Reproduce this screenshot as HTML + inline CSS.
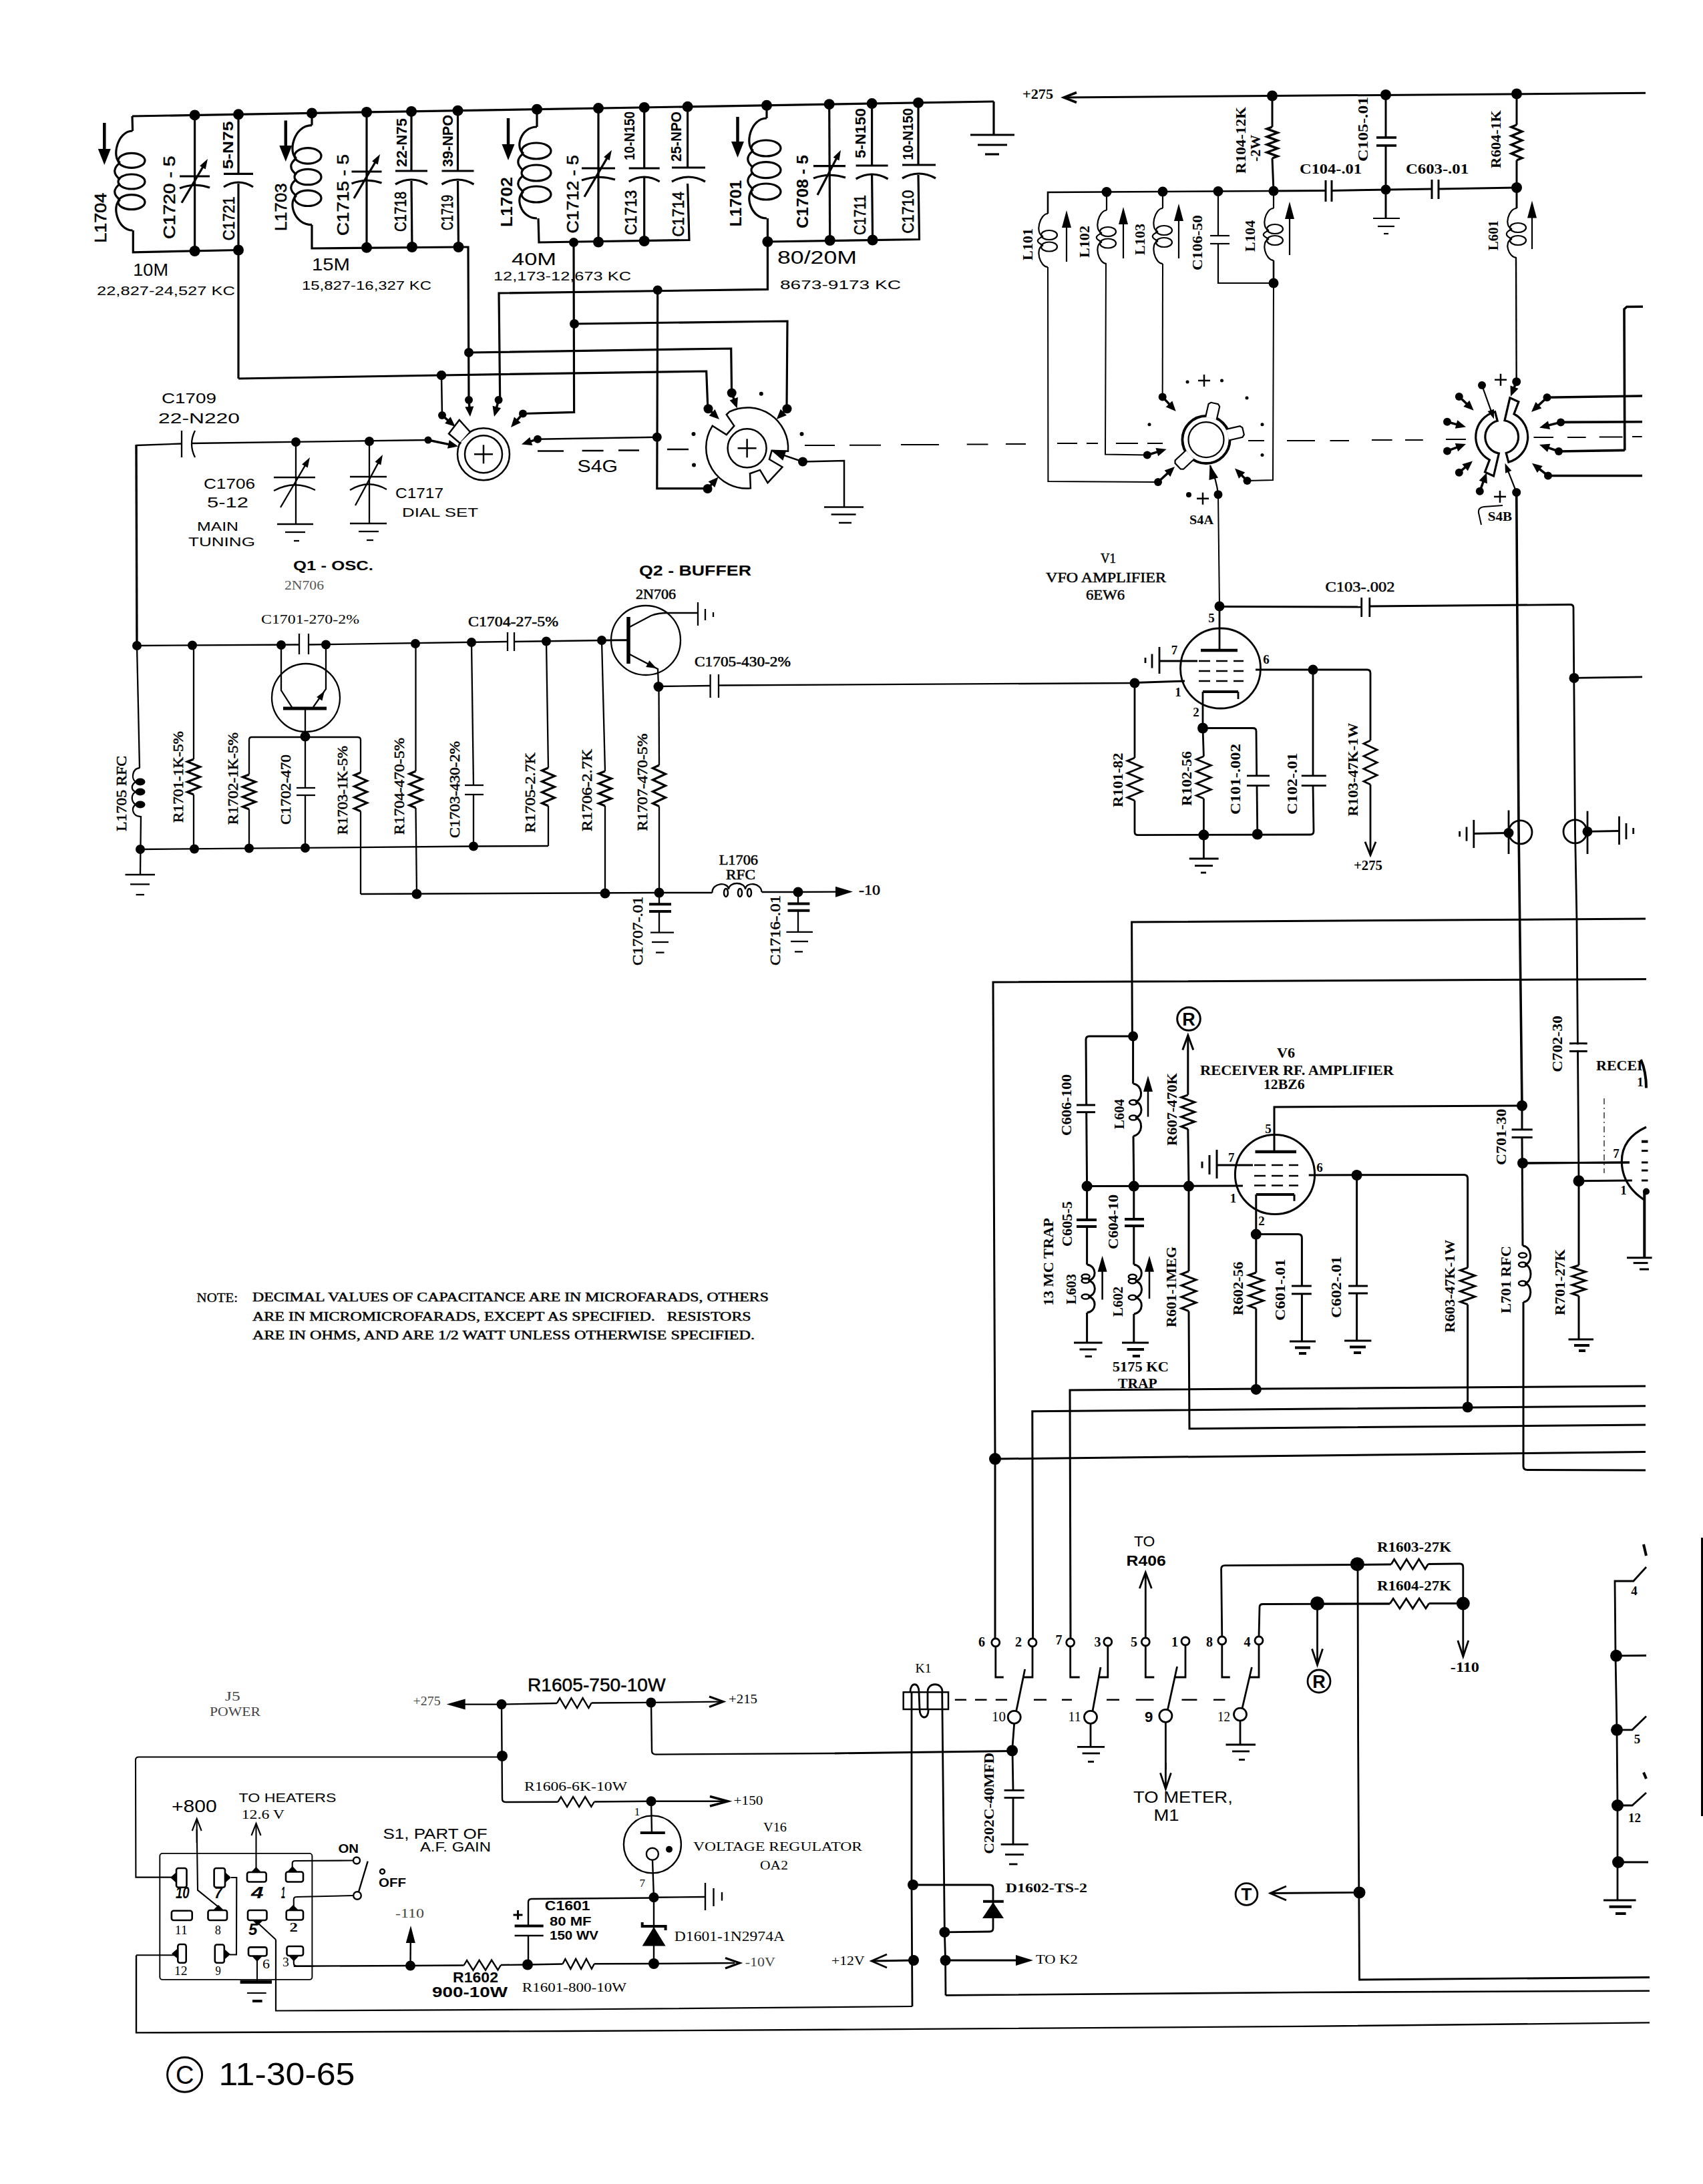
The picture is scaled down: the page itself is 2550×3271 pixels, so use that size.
<!DOCTYPE html>
<html><head><meta charset="utf-8"><title>Schematic</title>
<style>html,body{margin:0;padding:0;background:#fff;overflow:hidden}svg{display:block}</style></head>
<body><svg width="2550" height="3271" viewBox="0 0 2550 3271" fill="none" stroke="#000" stroke-linecap="butt" stroke-linejoin="miter">
<rect x="0" y="0" width="2550" height="3271" fill="#fff" stroke="none"/>
<polyline points="198.0,174.0 1488.0,152.0" stroke-width="3.2"/>
<polyline points="1488.0,152.0 1488.0,202.0" stroke-width="3.2"/>
<polyline points="1453.0,202.0 1519.0,202.0" stroke-width="3.2"/>
<polyline points="1464.0,217.0 1508.0,217.0" stroke-width="3.2"/>
<polyline points="1475.0,231.0 1496.0,231.0" stroke-width="3.2"/>
<polyline points="198.0,174.0 198.6,196.0" stroke-width="3.2"/>
<path d="M198.6,196.0 C175.0,196.0 167.0,237.1 180.0,243.7" stroke-width="3.2" fill="none"/>
<ellipse cx="197.0" cy="240.4" rx="20" ry="11" stroke-width="3.2" fill="none"/>
<path d="M180.0,243.7 C169.0,251.4 169.0,261.0 180.0,268.7" stroke-width="3.2" fill="none"/>
<ellipse cx="197.0" cy="272.0" rx="20" ry="11" stroke-width="3.2" fill="none"/>
<path d="M180.0,275.3 C169.0,283.0 169.0,291.7 180.0,299.4" stroke-width="3.2" fill="none"/>
<ellipse cx="197.0" cy="302.7" rx="20" ry="11" stroke-width="3.2" fill="none"/>
<path d="M180.0,299.4 C167.0,306.0 175.0,345.0 198.6,345.0" stroke-width="3.2" fill="none"/>
<polyline points="199.3,345.0 199.3,377.8 357.0,374.5" stroke-width="3.2"/>
<polyline points="156.3,184.0 156.3,232.6" stroke-width="4.5"/>
<polygon points="156.3,247.0 146.8,223.0 165.8,223.0" fill="#000" stroke="none"/>
<text transform="translate(159.1 363.7) rotate(-90)" font-family="Liberation Sans" font-size="24" font-weight="normal" textLength="75.1" lengthAdjust="spacingAndGlyphs" fill="#000" stroke="#000" stroke-width="0.6" xml:space="preserve">L1704</text>
<text transform="translate(262.2 357.9) rotate(-90)" font-family="Liberation Sans" font-size="24" font-weight="normal" textLength="124.5" lengthAdjust="spacingAndGlyphs" fill="#000" stroke="#000" stroke-width="0.6" xml:space="preserve">C1720 - 5</text>
<polyline points="291.6,172.4 291.6,376.0" stroke-width="3.2"/>
<circle cx="291.6" cy="172.4" r="8" fill="#000" stroke="none"/>
<circle cx="291.6" cy="376.0" r="8" fill="#000" stroke="none"/>
<polyline points="269.1,264.0 314.1,264.0" stroke-width="3.2"/>
<path d="M269.1,282.0 Q291.6,273.0 314.1,281.0" stroke-width="3.2" fill="none"/>
<polyline points="272.0,303.8 306.4,245.7" stroke-width="3.2"/>
<polygon points="311.0,238.0 307.7,253.5 299.1,248.4" fill="#000" stroke="none"/>
<circle cx="357.0" cy="171.3" r="8" fill="#000" stroke="none"/>
<circle cx="357.0" cy="374.5" r="8" fill="#000" stroke="none"/>
<polyline points="357.0,171.3 357.0,260.4" stroke-width="3.2"/>
<polyline points="357.0,275.0 357.0,567.0" stroke-width="3.2"/>
<polyline points="335.0,260.4 379.0,260.4" stroke-width="3.2"/>
<path d="M335.0,280.0 Q357.0,266.0 379.0,280.0" stroke-width="3.2" fill="none"/>
<text transform="translate(349.1 253.3) rotate(-90)" font-family="Liberation Sans" font-size="22" font-weight="bold" textLength="71.6" lengthAdjust="spacingAndGlyphs" fill="#000" stroke="none" stroke-width="0" xml:space="preserve">5-N75</text>
<text transform="translate(351.0 360.2) rotate(-90)" font-family="Liberation Sans" font-size="24" font-weight="normal" textLength="65.8" lengthAdjust="spacingAndGlyphs" fill="#000" stroke="#000" stroke-width="0.6" xml:space="preserve">C1721</text>
<text x="199.3" y="413.0" font-family="Liberation Sans" font-size="26" font-weight="normal" textLength="52.7" lengthAdjust="spacingAndGlyphs" fill="#000" stroke="none" stroke-width="0" xml:space="preserve">10M</text>
<text x="145.0" y="442.4" font-family="Liberation Sans" font-size="18" font-weight="normal" textLength="207.0" lengthAdjust="spacingAndGlyphs" fill="#000" stroke="none" stroke-width="0" xml:space="preserve">22,827-24,527 KC</text>
<polyline points="357.0,567.0 661.0,562.0 1057.7,556.0 1059.8,610.4" stroke-width="3.2"/>
<circle cx="661.0" cy="562.0" r="7" fill="#000" stroke="none"/>
<circle cx="467.0" cy="169.4" r="8" fill="#000" stroke="none"/>
<polyline points="467.0,169.4 467.0,187.6" stroke-width="3.2"/>
<path d="M467.0,187.6 C439.0,187.6 431.0,229.9 444.0,236.9" stroke-width="3.2" fill="none"/>
<ellipse cx="461.0" cy="233.4" rx="20" ry="11.7" stroke-width="3.2" fill="none"/>
<path d="M444.0,236.9 C433.0,245.1 433.0,253.3 444.0,261.5" stroke-width="3.2" fill="none"/>
<ellipse cx="461.0" cy="265.0" rx="20" ry="11.7" stroke-width="3.2" fill="none"/>
<path d="M444.0,268.5 C433.0,276.7 433.0,285.1 444.0,293.3" stroke-width="3.2" fill="none"/>
<ellipse cx="461.0" cy="296.8" rx="20" ry="11.7" stroke-width="3.2" fill="none"/>
<path d="M444.0,293.3 C431.0,300.3 439.0,336.7 467.0,336.7" stroke-width="3.2" fill="none"/>
<polyline points="467.0,336.7 467.0,372.0 687.0,370.0 701.0,370.0 702.0,599.0" stroke-width="3.2"/>
<polyline points="427.8,180.5 427.8,227.6" stroke-width="4.5"/>
<polygon points="427.8,242.0 418.3,218.0 437.3,218.0" fill="#000" stroke="none"/>
<text transform="translate(429.2 346.0) rotate(-90)" font-family="Liberation Sans" font-size="24" font-weight="normal" textLength="71.5" lengthAdjust="spacingAndGlyphs" fill="#000" stroke="#000" stroke-width="0.6" xml:space="preserve">L1703</text>
<text transform="translate(522.4 353.0) rotate(-90)" font-family="Liberation Sans" font-size="24" font-weight="normal" textLength="122.0" lengthAdjust="spacingAndGlyphs" fill="#000" stroke="#000" stroke-width="0.6" xml:space="preserve">C1715 - 5</text>
<polyline points="549.0,168.0 549.0,370.8" stroke-width="3.2"/>
<circle cx="549.0" cy="168.0" r="8" fill="#000" stroke="none"/>
<circle cx="549.0" cy="370.8" r="8" fill="#000" stroke="none"/>
<polyline points="526.5,257.0 571.5,257.0" stroke-width="3.2"/>
<path d="M526.5,275.0 Q549.0,266.0 571.5,274.0" stroke-width="3.2" fill="none"/>
<polyline points="530.0,297.0 564.4,238.7" stroke-width="3.2"/>
<polygon points="569.0,231.0 565.7,246.5 557.1,241.4" fill="#000" stroke="none"/>
<circle cx="616.0" cy="166.9" r="8" fill="#000" stroke="none"/>
<circle cx="617.0" cy="370.0" r="8" fill="#000" stroke="none"/>
<polyline points="616.0,166.9 616.0,256.0" stroke-width="3.2"/>
<polyline points="616.0,271.0 617.0,370.0" stroke-width="3.2"/>
<polyline points="592.0,256.0 640.0,256.0" stroke-width="3.2"/>
<path d="M592.0,276.0 Q616.0,262.0 640.0,276.0" stroke-width="3.2" fill="none"/>
<text transform="translate(608.7 250.0) rotate(-90)" font-family="Liberation Sans" font-size="22" font-weight="bold" textLength="73.0" lengthAdjust="spacingAndGlyphs" fill="#000" stroke="none" stroke-width="0" xml:space="preserve">22-N75</text>
<text transform="translate(608.4 347.0) rotate(-90)" font-family="Liberation Sans" font-size="24" font-weight="normal" textLength="60.0" lengthAdjust="spacingAndGlyphs" fill="#000" stroke="#000" stroke-width="0.6" xml:space="preserve">C1718</text>
<circle cx="685.5" cy="165.7" r="8" fill="#000" stroke="none"/>
<circle cx="686.5" cy="370.0" r="8" fill="#000" stroke="none"/>
<polyline points="685.5,165.7 685.5,256.0" stroke-width="3.2"/>
<polyline points="685.5,271.0 686.5,370.0" stroke-width="3.2"/>
<polyline points="661.5,256.0 709.5,256.0" stroke-width="3.2"/>
<path d="M661.5,276.0 Q685.5,262.0 709.5,276.0" stroke-width="3.2" fill="none"/>
<text transform="translate(678.2 250.0) rotate(-90)" font-family="Liberation Sans" font-size="22" font-weight="bold" textLength="78.0" lengthAdjust="spacingAndGlyphs" fill="#000" stroke="none" stroke-width="0" xml:space="preserve">39-NPO</text>
<text transform="translate(677.9 345.0) rotate(-90)" font-family="Liberation Sans" font-size="24" font-weight="normal" textLength="53.0" lengthAdjust="spacingAndGlyphs" fill="#000" stroke="#000" stroke-width="0.6" xml:space="preserve">C1719</text>
<text x="467.0" y="405.0" font-family="Liberation Sans" font-size="26" font-weight="normal" textLength="57.0" lengthAdjust="spacingAndGlyphs" fill="#000" stroke="none" stroke-width="0" xml:space="preserve">15M</text>
<text x="452.0" y="434.0" font-family="Liberation Sans" font-size="18" font-weight="normal" textLength="194.0" lengthAdjust="spacingAndGlyphs" fill="#000" stroke="none" stroke-width="0" xml:space="preserve">15,827-16,327 KC</text>
<circle cx="702.0" cy="528.0" r="7" fill="#000" stroke="none"/>
<polyline points="702.0,528.0 1094.7,522.0 1095.6,587.8" stroke-width="3.2"/>
<circle cx="804.0" cy="163.7" r="8" fill="#000" stroke="none"/>
<polyline points="804.0,163.7 804.0,190.0" stroke-width="3.2"/>
<path d="M804.0,190.0 C779.0,190.0 771.0,222.4 784.0,229.6" stroke-width="3.2" fill="none"/>
<ellipse cx="803.0" cy="226.0" rx="22" ry="12" stroke-width="3.2" fill="none"/>
<path d="M784.0,229.6 C773.0,238.0 773.0,247.0 784.0,255.4" stroke-width="3.2" fill="none"/>
<ellipse cx="803.0" cy="259.0" rx="22" ry="12" stroke-width="3.2" fill="none"/>
<path d="M784.0,262.6 C773.0,271.0 773.0,279.0 784.0,287.4" stroke-width="3.2" fill="none"/>
<ellipse cx="803.0" cy="291.0" rx="22" ry="12" stroke-width="3.2" fill="none"/>
<path d="M784.0,287.4 C771.0,294.6 779.0,327.0 804.0,327.0" stroke-width="3.2" fill="none"/>
<polyline points="806.0,327.0 807.0,363.0 1032.0,359.5 1029.6,275.0" stroke-width="3.2"/>
<polyline points="761.0,177.0 761.0,225.6" stroke-width="4.5"/>
<polygon points="761.0,240.0 751.5,216.0 770.5,216.0" fill="#000" stroke="none"/>
<text transform="translate(767.4 340.0) rotate(-90)" font-family="Liberation Sans" font-size="24" font-weight="bold" textLength="75.0" lengthAdjust="spacingAndGlyphs" fill="#000" stroke="none" stroke-width="0" xml:space="preserve">L1702</text>
<text transform="translate(865.8 349.6) rotate(-90)" font-family="Liberation Sans" font-size="24" font-weight="normal" textLength="117.6" lengthAdjust="spacingAndGlyphs" fill="#000" stroke="#000" stroke-width="0.6" xml:space="preserve">C1712 - 5</text>
<polyline points="896.0,162.1 896.0,364.5" stroke-width="3.2"/>
<circle cx="896.0" cy="162.1" r="8" fill="#000" stroke="none"/>
<circle cx="896.0" cy="362.5" r="8" fill="#000" stroke="none"/>
<polyline points="871.0,252.0 921.0,252.0" stroke-width="3.2"/>
<path d="M871.0,270.0 Q896.0,261.0 921.0,269.0" stroke-width="3.2" fill="none"/>
<polyline points="875.0,294.7 911.4,232.6" stroke-width="3.2"/>
<polygon points="916.0,224.8 912.7,240.3 904.1,235.2" fill="#000" stroke="none"/>
<circle cx="964.7" cy="160.9" r="8" fill="#000" stroke="none"/>
<circle cx="964.7" cy="361.0" r="8" fill="#000" stroke="none"/>
<polyline points="964.7,160.9 964.7,252.0" stroke-width="3.2"/>
<polyline points="964.7,266.0 964.7,361.0" stroke-width="3.2"/>
<polyline points="941.7,252.0 987.7,252.0" stroke-width="3.2"/>
<path d="M941.7,272.0 Q964.7,258.0 987.7,272.0" stroke-width="3.2" fill="none"/>
<text transform="translate(949.7 240.0) rotate(-90)" font-family="Liberation Sans" font-size="22" font-weight="bold" textLength="73.0" lengthAdjust="spacingAndGlyphs" fill="#000" stroke="none" stroke-width="0" xml:space="preserve">10-N150</text>
<text transform="translate(953.1 352.0) rotate(-90)" font-family="Liberation Sans" font-size="24" font-weight="normal" textLength="67.3" lengthAdjust="spacingAndGlyphs" fill="#000" stroke="#000" stroke-width="0.6" xml:space="preserve">C1713</text>
<circle cx="1029.6" cy="159.8" r="8" fill="#000" stroke="none"/>
<polyline points="1029.6,159.8 1029.6,251.0" stroke-width="3.2"/>
<polyline points="1006.0,251.0 1056.0,251.0" stroke-width="3.2"/>
<path d="M1006.0,272.0 Q1031.0,258.0 1056.0,272.0" stroke-width="3.2" fill="none"/>
<text transform="translate(1019.7 242.0) rotate(-90)" font-family="Liberation Sans" font-size="22" font-weight="bold" textLength="75.0" lengthAdjust="spacingAndGlyphs" fill="#000" stroke="none" stroke-width="0" xml:space="preserve">25-NPO</text>
<text transform="translate(1024.0 354.6) rotate(-90)" font-family="Liberation Sans" font-size="24" font-weight="normal" textLength="67.6" lengthAdjust="spacingAndGlyphs" fill="#000" stroke="#000" stroke-width="0.6" xml:space="preserve">C1714</text>
<text x="766.0" y="397.0" font-family="Liberation Sans" font-size="26" font-weight="normal" textLength="67.0" lengthAdjust="spacingAndGlyphs" fill="#000" stroke="none" stroke-width="0" xml:space="preserve">40M</text>
<text x="739.0" y="420.0" font-family="Liberation Sans" font-size="18" font-weight="normal" textLength="206.0" lengthAdjust="spacingAndGlyphs" fill="#000" stroke="none" stroke-width="0" xml:space="preserve">12,173-12,673 KC</text>
<circle cx="859.0" cy="363.0" r="7" fill="#000" stroke="none"/>
<polyline points="859.0,363.0 859.6,617.4 783.0,619.5" stroke-width="3.2"/>
<circle cx="860.0" cy="485.0" r="7" fill="#000" stroke="none"/>
<polyline points="860.0,485.0 1179.0,481.0 1178.0,609.6" stroke-width="3.2"/>
<polyline points="748.7,599.0 747.0,439.0 1149.4,433.4 1149.4,362.0" stroke-width="3.2"/>
<circle cx="984.7" cy="434.4" r="7" fill="#000" stroke="none"/>
<polyline points="984.7,434.4 983.8,731.7 1059.8,731.7" stroke-width="3.2"/>
<circle cx="1148.0" cy="157.8" r="8" fill="#000" stroke="none"/>
<polyline points="1148.0,157.8 1148.0,177.0" stroke-width="3.2"/>
<path d="M1148.0,177.0 C1123.0,177.0 1115.0,218.4 1128.0,225.6" stroke-width="3.2" fill="none"/>
<ellipse cx="1147.0" cy="222.0" rx="22" ry="12" stroke-width="3.2" fill="none"/>
<path d="M1128.0,225.6 C1117.0,234.0 1117.0,242.7 1128.0,251.1" stroke-width="3.2" fill="none"/>
<ellipse cx="1147.0" cy="254.7" rx="22" ry="12" stroke-width="3.2" fill="none"/>
<path d="M1128.0,258.3 C1117.0,266.7 1117.0,275.0 1128.0,283.4" stroke-width="3.2" fill="none"/>
<ellipse cx="1147.0" cy="287.0" rx="22" ry="12" stroke-width="3.2" fill="none"/>
<path d="M1128.0,283.4 C1115.0,290.6 1123.0,327.0 1148.0,327.0" stroke-width="3.2" fill="none"/>
<polyline points="1149.4,327.0 1149.4,362.0 1376.5,358.5 1375.0,262.0" stroke-width="3.2"/>
<circle cx="1149.4" cy="362.0" r="8" fill="#000" stroke="none"/>
<polyline points="1104.5,175.0 1104.5,221.6" stroke-width="4.5"/>
<polygon points="1104.5,236.0 1095.0,212.0 1114.0,212.0" fill="#000" stroke="none"/>
<text transform="translate(1110.4 339.6) rotate(-90)" font-family="Liberation Sans" font-size="24" font-weight="bold" textLength="69.9" lengthAdjust="spacingAndGlyphs" fill="#000" stroke="none" stroke-width="0" xml:space="preserve">L1701</text>
<text transform="translate(1210.2 342.0) rotate(-90)" font-family="Liberation Sans" font-size="24" font-weight="bold" textLength="110.0" lengthAdjust="spacingAndGlyphs" fill="#000" stroke="none" stroke-width="0" xml:space="preserve">C1708 - 5</text>
<polyline points="1241.7,156.2 1242.7,359.5" stroke-width="3.2"/>
<circle cx="1241.7" cy="156.2" r="8" fill="#000" stroke="none"/>
<circle cx="1242.7" cy="360.0" r="8" fill="#000" stroke="none"/>
<polyline points="1218.0,248.7 1266.0,248.7" stroke-width="3.2"/>
<path d="M1218.0,267.0 Q1242.0,258.0 1266.0,266.0" stroke-width="3.2" fill="none"/>
<polyline points="1224.0,292.0 1254.8,232.8" stroke-width="3.2"/>
<polygon points="1259.0,224.8 1256.5,240.4 1247.6,235.8" fill="#000" stroke="none"/>
<circle cx="1305.6" cy="155.1" r="8" fill="#000" stroke="none"/>
<circle cx="1306.6" cy="359.5" r="8" fill="#000" stroke="none"/>
<polyline points="1305.6,155.1 1305.6,248.0" stroke-width="3.2"/>
<polyline points="1305.6,262.0 1306.6,359.5" stroke-width="3.2"/>
<polyline points="1281.6,248.0 1329.6,248.0" stroke-width="3.2"/>
<path d="M1281.6,268.0 Q1305.6,254.0 1329.6,268.0" stroke-width="3.2" fill="none"/>
<text transform="translate(1295.7 237.0) rotate(-90)" font-family="Liberation Sans" font-size="22" font-weight="bold" textLength="75.0" lengthAdjust="spacingAndGlyphs" fill="#000" stroke="none" stroke-width="0" xml:space="preserve">5-N150</text>
<text transform="translate(1296.4 352.0) rotate(-90)" font-family="Liberation Sans" font-size="24" font-weight="normal" textLength="60.0" lengthAdjust="spacingAndGlyphs" fill="#000" stroke="#000" stroke-width="0.6" xml:space="preserve">C1711</text>
<circle cx="1375.0" cy="153.9" r="8" fill="#000" stroke="none"/>
<polyline points="1375.0,153.9 1375.0,247.0" stroke-width="3.2"/>
<polyline points="1351.0,247.0 1401.0,247.0" stroke-width="3.2"/>
<path d="M1351.0,267.0 Q1376.0,253.0 1401.0,267.0" stroke-width="3.2" fill="none"/>
<text transform="translate(1366.7 239.8) rotate(-90)" font-family="Liberation Sans" font-size="22" font-weight="bold" textLength="77.8" lengthAdjust="spacingAndGlyphs" fill="#000" stroke="none" stroke-width="0" xml:space="preserve">10-N150</text>
<text transform="translate(1368.4 349.6) rotate(-90)" font-family="Liberation Sans" font-size="24" font-weight="normal" textLength="64.9" lengthAdjust="spacingAndGlyphs" fill="#000" stroke="#000" stroke-width="0.6" xml:space="preserve">C1710</text>
<text x="1164.0" y="394.5" font-family="Liberation Sans" font-size="27" font-weight="normal" textLength="119.0" lengthAdjust="spacingAndGlyphs" fill="#000" stroke="none" stroke-width="0" xml:space="preserve">80/20M</text>
<text x="1168.0" y="433.4" font-family="Liberation Sans" font-size="18" font-weight="normal" textLength="181.0" lengthAdjust="spacingAndGlyphs" fill="#000" stroke="none" stroke-width="0" xml:space="preserve">8673-9173 KC</text>
<circle cx="724.0" cy="680.3" r="39" stroke-width="2.5" fill="#fff"/>
<polygon points="704,647 687.8,629 672,649.5 689,664" fill="#fff" stroke="#000" stroke-width="2.5"/>
<polygon points="703,649.5 690,662 700,672 712,658" fill="#fff" stroke="none"/>
<circle cx="724.0" cy="680.3" r="28" stroke-width="2.5" fill="none"/>
<polyline points="710.0,680.3 738.0,680.3" stroke-width="2.5"/>
<polyline points="724.0,666.3 724.0,694.3" stroke-width="2.5"/>
<circle cx="661.0" cy="562.0" r="7" fill="#000" stroke="none"/>
<polyline points="661.0,562.0 662.0,622.0" stroke-width="2.5"/>
<circle cx="662.0" cy="622.0" r="6" fill="#000" stroke="none"/>
<polyline points="662.0,622.0 674.9,633.1" stroke-width="3.5"/>
<polygon points="681.7,639.0 666.1,634.1 674.6,624.3" fill="#000" stroke="none"/>
<circle cx="702.0" cy="599.0" r="6" fill="#000" stroke="none"/>
<polyline points="702.0,599.0 703.3,615.0" stroke-width="3.5"/>
<polygon points="704.0,624.0 696.3,609.6 709.3,608.5" fill="#000" stroke="none"/>
<circle cx="746.6" cy="599.0" r="6" fill="#000" stroke="none"/>
<polyline points="746.6,599.0 742.3,615.3" stroke-width="3.5"/>
<polygon points="740.0,624.0 737.5,607.8 750.1,611.2" fill="#000" stroke="none"/>
<circle cx="783.0" cy="619.5" r="6" fill="#000" stroke="none"/>
<polyline points="783.0,619.5 770.9,633.2" stroke-width="3.5"/>
<polygon points="765.0,640.0 770.0,624.4 779.8,633.0" fill="#000" stroke="none"/>
<circle cx="641.0" cy="659.0" r="5.5" fill="#000" stroke="none"/>
<polyline points="641.0,659.0 677.2,666.6" stroke-width="3.5"/>
<polygon points="686.0,668.5 670.0,671.8 672.7,659.0" fill="#000" stroke="none"/>
<circle cx="805.0" cy="657.7" r="6" fill="#000" stroke="none"/>
<polyline points="805.0,657.7 789.6,662.7" stroke-width="3.5"/>
<polygon points="781.0,665.5 793.3,654.7 797.3,667.0" fill="#000" stroke="none"/>
<polyline points="805.0,657.7 983.8,654.8" stroke-width="2.5"/>
<circle cx="983.8" cy="654.8" r="7" fill="#000" stroke="none"/>
<polyline points="805.0,675.4 844.0,675.4" stroke-width="2.5"/>
<polyline points="871.6,675.0 903.6,675.0" stroke-width="2.5"/>
<polyline points="926.0,674.5 957.0,674.5" stroke-width="2.5"/>
<polyline points="999.0,673.0 1031.0,673.0" stroke-width="2.5"/>
<text x="864.6" y="707.0" font-family="Liberation Sans" font-size="25" font-weight="normal" textLength="60.4" lengthAdjust="spacingAndGlyphs" fill="#000" stroke="none" stroke-width="0" xml:space="preserve">S4G</text>
<path d="M1123.9,731.2 A61,61 0 0 1 1066.7,637.8 L1087.8,651 L1099.3,637.8 L1087.8,621 L1092.2,616.7 A61,61 0 0 1 1180,675.7 L1155.6,674.8 L1152,688 L1171.5,699.5 L1149.5,723.2 L1138,703.9 L1123,709.2 Z" stroke-width="2.5" fill="#fff"/>
<circle cx="1118.6" cy="671.3" r="29" stroke-width="2.5" fill="none"/>
<polyline points="1104.6,671.3 1132.6,671.3" stroke-width="2.5"/>
<polyline points="1118.6,657.3 1118.6,685.3" stroke-width="2.5"/>
<circle cx="1139.8" cy="589.7" r="3" fill="#000" stroke="none"/>
<circle cx="1038.5" cy="650.0" r="3" fill="#000" stroke="none"/>
<circle cx="1039.0" cy="696.5" r="3" fill="#000" stroke="none"/>
<circle cx="1200.5" cy="650.0" r="3" fill="#000" stroke="none"/>
<circle cx="1060.5" cy="612.3" r="7" fill="#000" stroke="none"/>
<polyline points="1060.5,612.3 1070.5,621.8" stroke-width="3.5"/>
<polygon points="1077.0,628.0 1061.7,622.4 1070.6,613.0" fill="#000" stroke="none"/>
<circle cx="1095.7" cy="588.5" r="7" fill="#000" stroke="none"/>
<polyline points="1095.7,588.5 1100.7,602.9" stroke-width="3.5"/>
<polygon points="1103.7,611.4 1092.6,599.4 1104.9,595.1" fill="#000" stroke="none"/>
<circle cx="1178.5" cy="612.3" r="7" fill="#000" stroke="none"/>
<polyline points="1178.5,612.3 1169.1,621.7" stroke-width="3.5"/>
<polygon points="1162.7,628.0 1168.8,612.8 1177.9,622.0" fill="#000" stroke="none"/>
<circle cx="1059.6" cy="732.0" r="7" fill="#000" stroke="none"/>
<polyline points="1059.6,732.0 1069.5,721.1" stroke-width="3.5"/>
<polygon points="1075.5,714.4 1070.3,729.9 1060.6,721.2" fill="#000" stroke="none"/>
<circle cx="1202.0" cy="691.5" r="7" fill="#000" stroke="none"/>
<polyline points="1202.0,691.5 1167.3,679.6" stroke-width="2.5"/>
<polygon points="1156.0,675.7 1177.5,674.6 1172.3,689.8" fill="#000" stroke="none"/>
<polyline points="1202.0,691.5 1264.0,690.0 1264.0,759.4" stroke-width="2.5"/>
<polyline points="1234.0,759.4 1293.0,759.4" stroke-width="2.5"/>
<polyline points="1244.6,770.5 1281.6,770.5" stroke-width="2.5"/>
<polyline points="1256.0,783.0 1275.0,783.0" stroke-width="2.5"/>
<polyline points="1205.0,667.0 1250.0,667.0" stroke-width="2"/>
<polyline points="1272.0,666.8 1319.0,666.8" stroke-width="2"/>
<polyline points="1349.0,666.0 1406.0,666.0" stroke-width="2"/>
<polyline points="1447.7,665.5 1479.5,665.5" stroke-width="2"/>
<polyline points="1506.0,665.0 1536.0,665.0" stroke-width="2"/>
<polyline points="1583.0,664.0 1613.0,664.0" stroke-width="2"/>
<polyline points="1627.0,664.0 1644.0,664.0" stroke-width="2"/>
<polyline points="1671.0,664.0 1704.0,664.0" stroke-width="2"/>
<polyline points="1718.0,664.0 1741.0,664.0" stroke-width="2"/>
<polyline points="1869.0,660.0 1893.0,660.0" stroke-width="2"/>
<polyline points="1927.0,660.0 1969.0,660.0" stroke-width="2"/>
<polyline points="1991.5,660.0 2020.0,660.0" stroke-width="2"/>
<polyline points="2054.0,659.0 2084.6,659.0" stroke-width="2"/>
<polyline points="2104.0,659.0 2130.8,659.0" stroke-width="2"/>
<polyline points="2165.0,658.0 2195.0,658.0" stroke-width="2"/>
<polyline points="2296.5,655.0 2326.0,655.0" stroke-width="2"/>
<polyline points="2347.0,655.0 2374.7,655.0" stroke-width="2"/>
<polyline points="2394.7,654.5 2429.6,654.5" stroke-width="2"/>
<polyline points="2444.0,654.0 2458.7,654.0" stroke-width="2"/>
<text x="242.0" y="604.0" font-family="Liberation Sans" font-size="22" font-weight="normal" textLength="82.0" lengthAdjust="spacingAndGlyphs" fill="#000" stroke="none" stroke-width="0" xml:space="preserve">C1709</text>
<text x="237.0" y="634.0" font-family="Liberation Sans" font-size="22" font-weight="normal" textLength="122.0" lengthAdjust="spacingAndGlyphs" fill="#000" stroke="none" stroke-width="0" xml:space="preserve">22-N220</text>
<polyline points="272.0,645.0 272.0,685.0" stroke-width="2.3"/>
<path d="M292,645 Q282,665 292,685" stroke-width="2.3" fill="none"/>
<polyline points="272.0,664.5 204.0,667.0" stroke-width="2.3"/>
<polyline points="204.0,666.0 205.0,967.0" stroke-width="3.4"/>
<polyline points="205.0,967.0 209.0,1150.0" stroke-width="2.3"/>
<polyline points="287.0,664.0 641.0,659.0" stroke-width="2.3"/>
<circle cx="443.0" cy="662.0" r="7" fill="#000" stroke="none"/>
<circle cx="553.0" cy="661.0" r="7" fill="#000" stroke="none"/>
<polyline points="443.0,662.0 443.0,785.0" stroke-width="2.3"/>
<polyline points="410.0,715.0 472.0,715.0" stroke-width="2.3"/>
<path d="M410.0,735.0 Q441.0,718.0 472.0,734.0" stroke-width="2.3" fill="none"/>
<polyline points="420.0,760.0 459.4,692.8" stroke-width="2.3"/>
<polygon points="464.0,685.0 460.7,700.5 452.1,695.4" fill="#000" stroke="none"/>
<polyline points="415.0,785.0 469.0,785.0" stroke-width="2.3"/>
<polyline points="427.0,797.0 457.0,797.0" stroke-width="2.3"/>
<polyline points="440.0,810.0 448.0,810.0" stroke-width="2.3"/>
<polyline points="553.0,661.0 553.0,784.0" stroke-width="2.3"/>
<polyline points="524.0,714.0 579.0,714.0" stroke-width="2.3"/>
<path d="M524.0,734.0 Q551.5,717.0 579.0,733.0" stroke-width="2.3" fill="none"/>
<polyline points="532.0,757.0 568.7,688.9" stroke-width="2.3"/>
<polygon points="573.0,681.0 570.3,696.6 561.5,691.8" fill="#000" stroke="none"/>
<polyline points="524.0,784.0 579.0,784.0" stroke-width="2.3"/>
<polyline points="537.0,796.0 567.0,796.0" stroke-width="2.3"/>
<polyline points="549.0,809.0 559.0,809.0" stroke-width="2.3"/>
<text x="305.0" y="732.0" font-family="Liberation Sans" font-size="22" font-weight="normal" textLength="77.0" lengthAdjust="spacingAndGlyphs" fill="#000" stroke="none" stroke-width="0" xml:space="preserve">C1706</text>
<text x="310.0" y="760.0" font-family="Liberation Sans" font-size="22" font-weight="normal" textLength="62.0" lengthAdjust="spacingAndGlyphs" fill="#000" stroke="none" stroke-width="0" xml:space="preserve">5-12</text>
<text x="295.0" y="795.0" font-family="Liberation Sans" font-size="18" font-weight="normal" textLength="62.0" lengthAdjust="spacingAndGlyphs" fill="#000" stroke="none" stroke-width="0" xml:space="preserve">MAIN</text>
<text x="282.0" y="818.0" font-family="Liberation Sans" font-size="18" font-weight="normal" textLength="100.0" lengthAdjust="spacingAndGlyphs" fill="#000" stroke="none" stroke-width="0" xml:space="preserve">TUNING</text>
<text x="592.0" y="746.0" font-family="Liberation Sans" font-size="22" font-weight="normal" textLength="72.0" lengthAdjust="spacingAndGlyphs" fill="#000" stroke="none" stroke-width="0" xml:space="preserve">C1717</text>
<text x="602.0" y="774.0" font-family="Liberation Sans" font-size="18" font-weight="normal" textLength="114.0" lengthAdjust="spacingAndGlyphs" fill="#000" stroke="none" stroke-width="0" xml:space="preserve">DIAL SET</text>
<text x="439.0" y="854.0" font-family="Liberation Sans" font-size="20" font-weight="bold" textLength="120.0" lengthAdjust="spacingAndGlyphs" fill="#000" stroke="none" stroke-width="0" xml:space="preserve">Q1 - OSC.</text>
<text x="426.0" y="883.0" font-family="Liberation Serif" font-size="18" font-weight="normal" textLength="59.0" lengthAdjust="spacingAndGlyphs" fill="#555" stroke="none" stroke-width="0" xml:space="preserve">2N706</text>
<text x="391.0" y="934.0" font-family="Liberation Serif" font-size="19" font-weight="normal" textLength="147.0" lengthAdjust="spacingAndGlyphs" fill="#000" stroke="none" stroke-width="0" xml:space="preserve">C1701-270-2%</text>
<text x="701.0" y="938.0" font-family="Liberation Serif" font-size="20" font-weight="normal" textLength="135.0" lengthAdjust="spacingAndGlyphs" fill="#000" stroke="#000" stroke-width="0.5" xml:space="preserve">C1704-27-5%</text>
<polyline points="205.0,967.0 448.0,965.5" stroke-width="2.3"/>
<polyline points="462.0,965.5 760.0,961.0" stroke-width="2.3"/>
<polyline points="770.0,961.0 941.0,958.5" stroke-width="2.3"/>
<circle cx="205.0" cy="967.0" r="7" fill="#000" stroke="none"/>
<circle cx="288.0" cy="966.5" r="7" fill="#000" stroke="none"/>
<circle cx="421.0" cy="966.0" r="7" fill="#000" stroke="none"/>
<circle cx="488.0" cy="965.5" r="7" fill="#000" stroke="none"/>
<circle cx="622.0" cy="964.0" r="7" fill="#000" stroke="none"/>
<circle cx="706.0" cy="962.0" r="7" fill="#000" stroke="none"/>
<circle cx="818.0" cy="960.5" r="7" fill="#000" stroke="none"/>
<circle cx="901.0" cy="959.0" r="7" fill="#000" stroke="none"/>
<polyline points="448.0,949.0 448.0,980.0" stroke-width="2.3"/>
<polyline points="462.0,949.0 462.0,980.0" stroke-width="2.3"/>
<polyline points="760.0,947.0 760.0,975.0" stroke-width="2.3"/>
<polyline points="770.0,947.0 770.0,975.0" stroke-width="2.3"/>
<circle cx="458.0" cy="1045.0" r="51" stroke-width="2.3" fill="none"/>
<polyline points="424.0,1061.0 489.0,1061.0" stroke-width="5"/>
<polyline points="421.0,966.0 421.0,1034.0 437.0,1059.0" stroke-width="2.3"/>
<polyline points="488.0,965.5 488.0,1032.0 469.0,1059.0" stroke-width="2.3"/>
<polygon points="486.0,1035.0 482.4,1049.4 474.1,1043.9" fill="#000" stroke="none"/>
<polyline points="457.0,1061.0 457.0,1103.0" stroke-width="2.3"/>
<circle cx="457.0" cy="1103.0" r="7.5" fill="#000" stroke="none"/>
<path d="M373,1160 L373,1108 Q373,1104 377,1104 L535,1104 Q540,1104 540,1108 L540,1157" stroke-width="2.3" fill="none"/>
<path d="M209.5,1150 C198,1151 196,1166 203,1171 C196,1176 196,1183 203,1186 C196,1190 196,1200 203,1205 C196,1210 198,1222 210,1223" stroke-width="2.3" fill="none"/>
<ellipse cx="210.0" cy="1171.0" rx="6.5" ry="4.5" stroke-width="2" fill="#000"/>
<ellipse cx="210.0" cy="1186.0" rx="6.5" ry="4.5" stroke-width="2" fill="#000"/>
<ellipse cx="210.0" cy="1205.0" rx="6.5" ry="4.5" stroke-width="2" fill="#000"/>
<polyline points="211.0,1222.0 210.0,1310.0" stroke-width="2.3"/>
<circle cx="210.0" cy="1272.0" r="7" fill="#000" stroke="none"/>
<polyline points="187.5,1310.0 232.0,1310.0" stroke-width="2.3"/>
<polyline points="195.0,1324.4 224.0,1324.4" stroke-width="2.3"/>
<polyline points="203.6,1340.0 216.0,1340.0" stroke-width="2.3"/>
<text transform="translate(188.9 1245.0) rotate(-90)" font-family="Liberation Serif" font-size="21" font-weight="normal" textLength="113.0" lengthAdjust="spacingAndGlyphs" fill="#000" stroke="#000" stroke-width="0.55" xml:space="preserve">L1705 RFC</text>
<polyline points="210.0,1272.0 709.0,1267.5 821.0,1267.0" stroke-width="2.3"/>
<circle cx="291.0" cy="1271.5" r="7" fill="#000" stroke="none"/>
<circle cx="373.0" cy="1270.5" r="7" fill="#000" stroke="none"/>
<circle cx="457.0" cy="1270.0" r="7" fill="#000" stroke="none"/>
<circle cx="709.0" cy="1267.5" r="7" fill="#000" stroke="none"/>
<polyline points="290.0,966.5 290.0,1137.0" stroke-width="2.3"/>
<polyline points="290.0,1137.0 280.5,1140.8 299.5,1148.4 280.5,1155.9 299.5,1163.5 280.5,1171.1 299.5,1178.6 280.5,1186.2 290.0,1190.0" stroke-width="3.2"/>
<polyline points="290.0,1190.0 290.0,1271.5" stroke-width="2.3"/>
<text transform="translate(273.9 1232.0) rotate(-90)" font-family="Liberation Serif" font-size="21" font-weight="normal" textLength="137.0" lengthAdjust="spacingAndGlyphs" fill="#000" stroke="#000" stroke-width="0.55" xml:space="preserve">R1701-1K-5%</text>
<polyline points="373.0,1160.0 373.0,1160.0" stroke-width="2.3"/>
<polyline points="373.0,1160.0 363.5,1163.7 382.5,1171.1 363.5,1178.6 382.5,1186.0 363.5,1193.4 382.5,1200.9 363.5,1208.3 373.0,1212.0" stroke-width="3.2"/>
<polyline points="373.0,1212.0 373.0,1270.5" stroke-width="2.3"/>
<text transform="translate(355.9 1235.0) rotate(-90)" font-family="Liberation Serif" font-size="21" font-weight="normal" textLength="138.0" lengthAdjust="spacingAndGlyphs" fill="#000" stroke="#000" stroke-width="0.55" xml:space="preserve">R1702-1K-5%</text>
<polyline points="457.0,1103.0 457.0,1180.0" stroke-width="2.3"/>
<polyline points="457.0,1191.0 457.0,1270.0" stroke-width="2.3"/>
<polyline points="444.0,1180.0 472.0,1180.0" stroke-width="2.3"/>
<polyline points="444.0,1191.0 472.0,1191.0" stroke-width="2.3"/>
<text transform="translate(434.9 1235.0) rotate(-90)" font-family="Liberation Serif" font-size="21" font-weight="normal" textLength="105.0" lengthAdjust="spacingAndGlyphs" fill="#000" stroke="#000" stroke-width="0.55" xml:space="preserve">C1702-470</text>
<polyline points="540.0,1157.0 540.0,1157.0" stroke-width="2.3"/>
<polyline points="540.0,1157.0 530.5,1161.1 549.5,1169.4 530.5,1177.7 549.5,1186.0 530.5,1194.3 549.5,1202.6 530.5,1210.9 540.0,1215.0" stroke-width="3.2"/>
<polyline points="540.0,1215.0 540.0,1339.0" stroke-width="2.3"/>
<polyline points="540.0,1339.0 993.0,1337.0" stroke-width="2.3"/>
<text transform="translate(519.9 1250.0) rotate(-90)" font-family="Liberation Serif" font-size="21" font-weight="normal" textLength="133.0" lengthAdjust="spacingAndGlyphs" fill="#000" stroke="#000" stroke-width="0.55" xml:space="preserve">R1703-1K-5%</text>
<polyline points="622.5,964.0 622.5,1155.0" stroke-width="2.3"/>
<polyline points="622.5,1155.0 613.0,1158.9 632.0,1166.8 613.0,1174.6 632.0,1182.5 613.0,1190.4 632.0,1198.2 613.0,1206.1 622.5,1210.0" stroke-width="3.2"/>
<polyline points="622.5,1210.0 624.0,1339.0" stroke-width="2.3"/>
<circle cx="624.0" cy="1339.0" r="7.5" fill="#000" stroke="none"/>
<text transform="translate(604.9 1250.0) rotate(-90)" font-family="Liberation Serif" font-size="21" font-weight="normal" textLength="145.0" lengthAdjust="spacingAndGlyphs" fill="#000" stroke="#000" stroke-width="0.55" xml:space="preserve">R1704-470-5%</text>
<polyline points="706.0,962.0 709.0,1176.0" stroke-width="2.3"/>
<polyline points="709.0,1190.0 709.0,1267.5" stroke-width="2.3"/>
<polyline points="696.0,1176.0 724.0,1176.0" stroke-width="2.3"/>
<polyline points="696.0,1190.0 724.0,1190.0" stroke-width="2.3"/>
<text transform="translate(687.9 1255.0) rotate(-90)" font-family="Liberation Serif" font-size="21" font-weight="normal" textLength="145.0" lengthAdjust="spacingAndGlyphs" fill="#000" stroke="#000" stroke-width="0.55" xml:space="preserve">C1703-430-2%</text>
<polyline points="818.0,960.5 821.0,1150.0" stroke-width="2.3"/>
<polyline points="821.0,1150.0 811.5,1154.1 830.5,1162.2 811.5,1170.4 830.5,1178.5 811.5,1186.6 830.5,1194.8 811.5,1202.9 821.0,1207.0" stroke-width="3.2"/>
<polyline points="821.0,1207.0 821.0,1267.0" stroke-width="2.3"/>
<text transform="translate(800.9 1247.0) rotate(-90)" font-family="Liberation Serif" font-size="21" font-weight="normal" textLength="120.0" lengthAdjust="spacingAndGlyphs" fill="#000" stroke="#000" stroke-width="0.55" xml:space="preserve">R1705-2.7K</text>
<polyline points="901.0,959.0 906.0,1155.0" stroke-width="2.3"/>
<polyline points="906.0,1155.0 896.5,1158.7 915.5,1166.1 896.5,1173.6 915.5,1181.0 896.5,1188.4 915.5,1195.9 896.5,1203.3 906.0,1207.0" stroke-width="3.2"/>
<polyline points="906.0,1207.0 906.0,1338.0" stroke-width="2.3"/>
<circle cx="906.0" cy="1338.0" r="7.5" fill="#000" stroke="none"/>
<text transform="translate(885.9 1245.0) rotate(-90)" font-family="Liberation Serif" font-size="21" font-weight="normal" textLength="123.0" lengthAdjust="spacingAndGlyphs" fill="#000" stroke="#000" stroke-width="0.55" xml:space="preserve">R1706-2.7K</text>
<text x="957.0" y="862.0" font-family="Liberation Sans" font-size="22" font-weight="bold" textLength="168.0" lengthAdjust="spacingAndGlyphs" fill="#000" stroke="none" stroke-width="0" xml:space="preserve">Q2 - BUFFER</text>
<text x="952.0" y="897.0" font-family="Liberation Serif" font-size="20" font-weight="normal" textLength="60.0" lengthAdjust="spacingAndGlyphs" fill="#000" stroke="#000" stroke-width="0.55" xml:space="preserve">2N706</text>
<circle cx="967.0" cy="959.0" r="52" stroke-width="2.3" fill="none"/>
<polyline points="941.0,924.0 941.0,994.0" stroke-width="5.5"/>
<polyline points="901.0,959.0 941.0,959.0" stroke-width="2.3"/>
<path d="M941,940 L975,922 Q985,918 1000,918 L1045,918" stroke-width="2.3" fill="none"/>
<polyline points="1045.0,902.0 1045.0,937.0" stroke-width="2.3"/>
<polyline points="1056.0,912.0 1056.0,929.0" stroke-width="2.3"/>
<polyline points="1068.0,917.0 1068.0,924.0" stroke-width="2.3"/>
<polyline points="941.0,979.0 985.0,1002.0 986.0,1028.0" stroke-width="2.3"/>
<polygon points="983.0,1001.0 967.2,998.9 972.3,989.2" fill="#000" stroke="none"/>
<circle cx="986.0" cy="1028.5" r="7.5" fill="#000" stroke="none"/>
<text x="1040.0" y="998.0" font-family="Liberation Serif" font-size="21" font-weight="normal" textLength="144.0" lengthAdjust="spacingAndGlyphs" fill="#000" stroke="#000" stroke-width="0.55" xml:space="preserve">C1705-430-2%</text>
<polyline points="986.0,1028.0 1063.6,1027.0" stroke-width="2.3"/>
<polyline points="1063.6,1010.0 1063.6,1045.0" stroke-width="2.3"/>
<polyline points="1076.0,1010.0 1076.0,1045.0" stroke-width="2.3"/>
<polyline points="1076.0,1026.5 1699.0,1023.0" stroke-width="2.3"/>
<polyline points="986.5,1028.0 987.0,1146.0" stroke-width="2.3"/>
<polyline points="987.0,1146.0 977.5,1150.4 996.5,1159.2 977.5,1168.0 996.5,1176.8 977.5,1185.6 996.5,1194.4 977.5,1203.2 987.0,1207.6" stroke-width="3.2"/>
<polyline points="987.0,1207.6 987.0,1354.0" stroke-width="2.3"/>
<circle cx="987.0" cy="1337.0" r="7.5" fill="#000" stroke="none"/>
<text transform="translate(969.4 1244.6) rotate(-90)" font-family="Liberation Serif" font-size="21" font-weight="normal" textLength="146.0" lengthAdjust="spacingAndGlyphs" fill="#000" stroke="#000" stroke-width="0.55" xml:space="preserve">R1707-470-5%</text>
<polyline points="987.0,1337.0 1066.5,1337.0" stroke-width="2.3"/>
<path d="M1066.5,1337 C1066,1322 1090,1320 1091,1332 C1092,1320 1115,1320 1116,1332 C1117,1320 1140,1322 1140.5,1336" stroke-width="2.3" fill="none"/>
<ellipse cx="1087.0" cy="1337.0" rx="3" ry="6" stroke-width="2.5" fill="none"/>
<ellipse cx="1108.0" cy="1337.0" rx="3" ry="6" stroke-width="2.5" fill="none"/>
<ellipse cx="1122.0" cy="1337.0" rx="3" ry="6" stroke-width="2.5" fill="none"/>
<polyline points="1140.5,1336.0 1195.0,1336.0" stroke-width="2.3"/>
<circle cx="1195.0" cy="1336.0" r="7.5" fill="#000" stroke="none"/>
<polyline points="1195.0,1336.0 1261.4,1335.6" stroke-width="2.3"/>
<polygon points="1277.0,1335.5 1251.0,1343.7 1251.0,1327.7" fill="#000" stroke="none"/>
<text x="1076.7" y="1295.0" font-family="Liberation Serif" font-size="21" font-weight="normal" textLength="58.3" lengthAdjust="spacingAndGlyphs" fill="#000" stroke="#000" stroke-width="0.55" xml:space="preserve">L1706</text>
<text x="1087.0" y="1317.3" font-family="Liberation Serif" font-size="21" font-weight="normal" textLength="44.0" lengthAdjust="spacingAndGlyphs" fill="#000" stroke="#000" stroke-width="0.55" xml:space="preserve">RFC</text>
<text x="1286.0" y="1340.0" font-family="Liberation Serif" font-size="21" font-weight="normal" textLength="32.0" lengthAdjust="spacingAndGlyphs" fill="#000" stroke="#000" stroke-width="0.55" xml:space="preserve">-10</text>
<polyline points="972.0,1354.3 1005.0,1354.3" stroke-width="4"/>
<polyline points="972.0,1365.0 1005.0,1365.0" stroke-width="4"/>
<polyline points="987.0,1365.0 987.0,1396.6" stroke-width="2.3"/>
<polyline points="974.0,1396.6 1009.0,1396.6" stroke-width="2.3"/>
<polyline points="976.0,1411.0 1001.0,1411.0" stroke-width="2.3"/>
<polyline points="982.0,1426.6 994.5,1426.6" stroke-width="2.3"/>
<text transform="translate(962.4 1446.0) rotate(-90)" font-family="Liberation Serif" font-size="21" font-weight="normal" textLength="103.0" lengthAdjust="spacingAndGlyphs" fill="#000" stroke="#000" stroke-width="0.55" xml:space="preserve">C1707-.01</text>
<polyline points="1195.0,1336.0 1195.0,1353.5" stroke-width="2.3"/>
<polyline points="1179.5,1353.5 1212.4,1353.5" stroke-width="4"/>
<polyline points="1179.5,1363.8 1212.4,1363.8" stroke-width="4"/>
<polyline points="1195.0,1363.8 1195.0,1395.8" stroke-width="2.3"/>
<polyline points="1177.4,1395.8 1217.0,1395.8" stroke-width="2.3"/>
<polyline points="1184.0,1410.0 1210.0,1410.0" stroke-width="2.3"/>
<polyline points="1190.0,1425.4 1202.0,1425.4" stroke-width="2.3"/>
<text transform="translate(1167.9 1446.0) rotate(-90)" font-family="Liberation Serif" font-size="21" font-weight="normal" textLength="105.0" lengthAdjust="spacingAndGlyphs" fill="#000" stroke="#000" stroke-width="0.55" xml:space="preserve">C1716-.01</text>
<text x="294.6" y="1950.0" font-family="Liberation Serif" font-size="18" font-weight="normal" textLength="61.4" lengthAdjust="spacingAndGlyphs" fill="#000" stroke="#000" stroke-width="0.3" xml:space="preserve">NOTE:</text>
<text x="378.0" y="1949.0" font-family="Liberation Serif" font-size="18" font-weight="normal" textLength="773.0" lengthAdjust="spacingAndGlyphs" fill="#000" stroke="#000" stroke-width="0.45" xml:space="preserve">DECIMAL VALUES OF CAPACITANCE ARE IN MICROFARADS, OTHERS</text>
<text x="378.0" y="1978.0" font-family="Liberation Serif" font-size="18" font-weight="normal" textLength="746.7" lengthAdjust="spacingAndGlyphs" fill="#000" stroke="#000" stroke-width="0.45" xml:space="preserve">ARE IN MICROMICROFARADS, EXCEPT AS SPECIFIED.   RESISTORS</text>
<text x="378.0" y="2006.0" font-family="Liberation Serif" font-size="18" font-weight="normal" textLength="752.0" lengthAdjust="spacingAndGlyphs" fill="#000" stroke="#000" stroke-width="0.45" xml:space="preserve">ARE IN OHMS, AND ARE 1/2 WATT UNLESS OTHERWISE SPECIFIED.</text>
<text x="1531.0" y="148.0" font-family="Liberation Serif" font-size="20" font-weight="bold" textLength="46.0" lengthAdjust="spacingAndGlyphs" fill="#000" stroke="none" stroke-width="0" xml:space="preserve">+275</text>
<polyline points="1594.0,146.0 2464.0,139.3" stroke-width="3"/>
<polyline points="1612.0,138.5 1593.0,146.0 1612.0,153.5" stroke-width="3.6"/>
<circle cx="1905.0" cy="143.5" r="8" fill="#000" stroke="none"/>
<circle cx="2075.0" cy="142.0" r="8" fill="#000" stroke="none"/>
<circle cx="2271.0" cy="140.5" r="8" fill="#000" stroke="none"/>
<polyline points="1905.0,143.5 1905.0,190.0" stroke-width="3"/>
<polyline points="1905.0,190.0 1897.0,192.9 1913.0,198.8 1897.0,204.7 1913.0,210.6 1897.0,216.4 1913.0,222.3 1897.0,228.2 1913.0,234.1 1905.0,237.0" stroke-width="3.4"/>
<polyline points="1905.0,237.0 1907.0,286.0" stroke-width="3"/>
<text transform="translate(1864.9 260.0) rotate(-90)" font-family="Liberation Serif" font-size="21" font-weight="bold" textLength="100.0" lengthAdjust="spacingAndGlyphs" fill="#000" stroke="none" stroke-width="0" xml:space="preserve">R104-12K</text>
<text transform="translate(1886.9 242.0) rotate(-90)" font-family="Liberation Serif" font-size="21" font-weight="bold" textLength="40.0" lengthAdjust="spacingAndGlyphs" fill="#000" stroke="none" stroke-width="0" xml:space="preserve">-2W</text>
<polyline points="1569.0,320.0 1569.0,288.0 1907.0,286.0" stroke-width="2.6"/>
<circle cx="1657.0" cy="287.5" r="7.5" fill="#000" stroke="none"/>
<circle cx="1741.0" cy="287.0" r="7.5" fill="#000" stroke="none"/>
<circle cx="1824.0" cy="286.5" r="7.5" fill="#000" stroke="none"/>
<circle cx="1907.0" cy="286.0" r="7.5" fill="#000" stroke="none"/>
<path d="M1569.0,320.0 C1557.0,320.0 1549.0,349.9 1562.0,354.1" stroke-width="2.2" fill="none"/>
<ellipse cx="1571.0" cy="352.0" rx="12" ry="7" stroke-width="2.2" fill="none"/>
<path d="M1562.0,354.1 C1551.0,359.0 1551.0,362.5 1562.0,367.4" stroke-width="2.2" fill="none"/>
<ellipse cx="1571.0" cy="369.5" rx="12" ry="7" stroke-width="2.2" fill="none"/>
<path d="M1562.0,367.4 C1549.0,371.6 1557.0,400.0 1569.0,400.0" stroke-width="2.2" fill="none"/>
<polyline points="1597.0,392.0 1597.0,325.0" stroke-width="2.2"/>
<polygon points="1597.0,315.0 1604.0,341.0 1590.0,341.0" fill="#000" stroke="none"/>
<text transform="translate(1545.9 390.0) rotate(-90)" font-family="Liberation Serif" font-size="21" font-weight="bold" textLength="48.0" lengthAdjust="spacingAndGlyphs" fill="#000" stroke="none" stroke-width="0" xml:space="preserve">L101</text>
<polyline points="1657.0,287.5 1657.0,315.0" stroke-width="2.2"/>
<path d="M1657.0,315.0 C1645.0,315.0 1637.0,344.9 1650.0,349.1" stroke-width="2.2" fill="none"/>
<ellipse cx="1659.0" cy="347.0" rx="12" ry="7" stroke-width="2.2" fill="none"/>
<path d="M1650.0,349.1 C1639.0,354.0 1639.0,357.5 1650.0,362.4" stroke-width="2.2" fill="none"/>
<ellipse cx="1659.0" cy="364.5" rx="12" ry="7" stroke-width="2.2" fill="none"/>
<path d="M1650.0,362.4 C1637.0,366.6 1645.0,395.0 1657.0,395.0" stroke-width="2.2" fill="none"/>
<polyline points="1682.0,387.0 1682.0,320.0" stroke-width="2.2"/>
<polygon points="1682.0,310.0 1689.0,336.0 1675.0,336.0" fill="#000" stroke="none"/>
<text transform="translate(1630.9 386.0) rotate(-90)" font-family="Liberation Serif" font-size="21" font-weight="bold" textLength="48.0" lengthAdjust="spacingAndGlyphs" fill="#000" stroke="none" stroke-width="0" xml:space="preserve">L102</text>
<polyline points="1741.0,287.0 1741.0,312.0" stroke-width="2.2"/>
<path d="M1741.0,312.0 C1729.0,312.0 1721.0,342.9 1734.0,347.1" stroke-width="2.2" fill="none"/>
<ellipse cx="1743.0" cy="345.0" rx="12" ry="7" stroke-width="2.2" fill="none"/>
<path d="M1734.0,347.1 C1723.0,352.0 1723.0,356.0 1734.0,360.9" stroke-width="2.2" fill="none"/>
<ellipse cx="1743.0" cy="363.0" rx="12" ry="7" stroke-width="2.2" fill="none"/>
<path d="M1734.0,360.9 C1721.0,365.1 1729.0,395.0 1741.0,395.0" stroke-width="2.2" fill="none"/>
<polyline points="1765.0,387.0 1765.0,315.0" stroke-width="2.2"/>
<polygon points="1765.0,305.0 1772.0,331.0 1758.0,331.0" fill="#000" stroke="none"/>
<text transform="translate(1713.9 382.0) rotate(-90)" font-family="Liberation Serif" font-size="21" font-weight="bold" textLength="47.0" lengthAdjust="spacingAndGlyphs" fill="#000" stroke="none" stroke-width="0" xml:space="preserve">L103</text>
<polyline points="1907.0,286.0 1907.0,312.0" stroke-width="2.2"/>
<path d="M1907.0,312.0 C1895.0,312.0 1887.0,340.9 1900.0,345.1" stroke-width="2.2" fill="none"/>
<ellipse cx="1909.0" cy="343.0" rx="12" ry="7" stroke-width="2.2" fill="none"/>
<path d="M1900.0,345.1 C1889.0,350.0 1889.0,353.0 1900.0,357.9" stroke-width="2.2" fill="none"/>
<ellipse cx="1909.0" cy="360.0" rx="12" ry="7" stroke-width="2.2" fill="none"/>
<path d="M1900.0,357.9 C1887.0,362.1 1895.0,390.0 1907.0,390.0" stroke-width="2.2" fill="none"/>
<polyline points="1931.0,382.0 1931.0,312.0" stroke-width="2.2"/>
<polygon points="1931.0,302.0 1938.0,328.0 1924.0,328.0" fill="#000" stroke="none"/>
<text transform="translate(1878.9 377.0) rotate(-90)" font-family="Liberation Serif" font-size="21" font-weight="bold" textLength="47.0" lengthAdjust="spacingAndGlyphs" fill="#000" stroke="none" stroke-width="0" xml:space="preserve">L104</text>
<polyline points="1824.0,286.5 1824.0,353.0" stroke-width="2.2"/>
<polyline points="1812.0,353.0 1841.0,353.0" stroke-width="2.2"/>
<polyline points="1812.0,365.0 1841.0,365.0" stroke-width="2.2"/>
<polyline points="1824.0,365.0 1824.0,424.0 1907.0,424.0" stroke-width="2.2"/>
<text transform="translate(1799.9 405.0) rotate(-90)" font-family="Liberation Serif" font-size="21" font-weight="bold" textLength="83.0" lengthAdjust="spacingAndGlyphs" fill="#000" stroke="none" stroke-width="0" xml:space="preserve">C106-50</text>
<circle cx="1907.0" cy="424.0" r="7.5" fill="#000" stroke="none"/>
<polyline points="1907.0,390.0 1907.0,424.0" stroke-width="2.6"/>
<polyline points="1907.0,424.0 1906.0,719.0 1867.5,720.0" stroke-width="2"/>
<polyline points="1569.0,400.0 1569.4,721.0 1734.0,722.0" stroke-width="2"/>
<polyline points="1656.0,395.0 1655.0,680.5 1717.8,681.5" stroke-width="2"/>
<polyline points="1741.0,395.0 1740.7,594.4" stroke-width="2"/>
<polyline points="1907.0,286.0 1985.0,285.5" stroke-width="3"/>
<polyline points="1985.0,270.0 1985.0,302.0" stroke-width="3"/>
<polyline points="1994.0,270.0 1994.0,302.0" stroke-width="3"/>
<polyline points="1994.0,285.5 2144.0,283.0" stroke-width="3"/>
<polyline points="2144.0,269.0 2144.0,298.0" stroke-width="3"/>
<polyline points="2154.0,269.0 2154.0,298.0" stroke-width="3"/>
<polyline points="2154.0,283.0 2271.0,281.0" stroke-width="3"/>
<circle cx="2075.0" cy="284.0" r="7.5" fill="#000" stroke="none"/>
<circle cx="2271.0" cy="281.0" r="8" fill="#000" stroke="none"/>
<text x="1946.0" y="260.0" font-family="Liberation Serif" font-size="21" font-weight="bold" textLength="93.0" lengthAdjust="spacingAndGlyphs" fill="#000" stroke="none" stroke-width="0" xml:space="preserve">C104-.01</text>
<text x="2105.0" y="260.0" font-family="Liberation Serif" font-size="21" font-weight="bold" textLength="94.0" lengthAdjust="spacingAndGlyphs" fill="#000" stroke="none" stroke-width="0" xml:space="preserve">C603-.01</text>
<polyline points="2075.0,142.0 2075.0,206.0" stroke-width="3"/>
<polyline points="2061.0,206.0 2091.0,206.0" stroke-width="3.6"/>
<polyline points="2061.0,218.0 2091.0,218.0" stroke-width="3.6"/>
<polyline points="2075.0,218.0 2075.0,327.0" stroke-width="3"/>
<polyline points="2056.0,327.0 2096.0,327.0" stroke-width="2.2"/>
<polyline points="2063.0,339.0 2088.0,339.0" stroke-width="2.2"/>
<polyline points="2072.0,350.0 2079.0,350.0" stroke-width="2.2"/>
<text transform="translate(2047.9 242.0) rotate(-90)" font-family="Liberation Serif" font-size="21" font-weight="bold" textLength="97.0" lengthAdjust="spacingAndGlyphs" fill="#000" stroke="none" stroke-width="0" xml:space="preserve">C105-.01</text>
<polyline points="2271.0,140.5 2271.0,187.0" stroke-width="3"/>
<polyline points="2271.0,187.0 2263.0,190.3 2279.0,196.9 2263.0,203.6 2279.0,210.2 2263.0,216.8 2279.0,223.4 2263.0,230.1 2279.0,236.7 2271.0,240.0" stroke-width="3.4"/>
<polyline points="2271.0,240.0 2271.0,312.0" stroke-width="3"/>
<text transform="translate(2246.9 252.0) rotate(-90)" font-family="Liberation Serif" font-size="21" font-weight="bold" textLength="87.0" lengthAdjust="spacingAndGlyphs" fill="#000" stroke="none" stroke-width="0" xml:space="preserve">R604-1K</text>
<path d="M2271.0,312.0 C2259.0,312.0 2251.0,338.9 2264.0,343.1" stroke-width="2.2" fill="none"/>
<ellipse cx="2273.0" cy="341.0" rx="12" ry="7" stroke-width="2.2" fill="none"/>
<path d="M2264.0,343.1 C2253.0,348.0 2253.0,353.0 2264.0,357.9" stroke-width="2.2" fill="none"/>
<ellipse cx="2273.0" cy="360.0" rx="12" ry="7" stroke-width="2.2" fill="none"/>
<path d="M2264.0,357.9 C2251.0,362.1 2259.0,386.0 2271.0,386.0" stroke-width="2.2" fill="none"/>
<polyline points="2294.0,373.0 2294.0,310.5" stroke-width="2.2"/>
<polygon points="2294.0,300.5 2301.0,326.5 2287.0,326.5" fill="#000" stroke="none"/>
<text transform="translate(2242.9 375.0) rotate(-90)" font-family="Liberation Serif" font-size="21" font-weight="bold" textLength="45.0" lengthAdjust="spacingAndGlyphs" fill="#000" stroke="none" stroke-width="0" xml:space="preserve">L601</text>
<polyline points="2270.0,386.0 2270.7,571.7" stroke-width="2.4"/>
<circle cx="1806.0" cy="658.6" r="35.5" stroke-width="4" fill="#fff"/>
<polygon points="1821.7,628.4 1826.2,608.9 1824.0,605.3 1813.2,602.8 1809.6,605.0 1805.1,624.5" fill="#fff" stroke="none"/>
<polyline points="1821.7,628.4 1826.2,608.9 1824.0,605.3 1813.2,602.8 1809.6,605.0 1805.1,624.5" stroke-width="2.2"/>
<polygon points="1840.1,659.5 1860.5,654.7 1862.8,651.1 1860.3,640.4 1856.7,638.2 1836.2,642.9" fill="#fff" stroke="none"/>
<polyline points="1840.1,659.5 1860.5,654.7 1862.8,651.1 1860.3,640.4 1856.7,638.2 1836.2,642.9" stroke-width="2.2"/>
<polygon points="1775.7,674.5 1759.6,689.5 1759.5,693.8 1767.7,702.5 1771.9,702.7 1788.0,687.7" fill="#fff" stroke="none"/>
<polyline points="1775.7,674.5 1759.6,689.5 1759.5,693.8 1767.7,702.5 1771.9,702.7 1788.0,687.7" stroke-width="2.2"/>
<circle cx="1806.0" cy="658.6" r="33.5" stroke-width="0.1" fill="#fff"/>
<circle cx="1806.0" cy="658.6" r="26.5" stroke-width="2.2" fill="none"/>
<circle cx="1740.7" cy="594.4" r="6" fill="#000" stroke="none"/>
<polyline points="1740.7,594.4 1754.6,609.4" stroke-width="3.5"/>
<polygon points="1760.7,616.0 1745.7,609.4 1755.3,600.6" fill="#000" stroke="none"/>
<circle cx="1717.8" cy="681.5" r="6" fill="#000" stroke="none"/>
<polyline points="1717.8,681.5 1738.1,675.3" stroke-width="3.5"/>
<polygon points="1746.7,672.7 1734.2,683.3 1730.5,670.9" fill="#000" stroke="none"/>
<circle cx="1734.0" cy="722.0" r="6" fill="#000" stroke="none"/>
<polyline points="1734.0,722.0 1752.4,705.1" stroke-width="3.5"/>
<polygon points="1759.0,699.0 1752.4,713.9 1743.6,704.4" fill="#000" stroke="none"/>
<circle cx="1867.5" cy="720.0" r="6" fill="#000" stroke="none"/>
<polyline points="1867.5,720.0 1855.4,707.9" stroke-width="3.5"/>
<polygon points="1849.0,701.5 1864.2,707.5 1855.0,716.7" fill="#000" stroke="none"/>
<circle cx="1824.0" cy="740.7" r="6.5" fill="#000" stroke="none"/>
<path d="M1824,740.7 Q1822,720 1812,697" stroke-width="2.2" fill="none"/>
<polygon points="1811.5,696.0 1824.0,715.4 1810.5,719.1" fill="#000" stroke="none"/>
<polyline points="1824.0,740.7 1826.0,908.0" stroke-width="2"/>
<polyline points="1794.0,570.0 1812.0,570.0" stroke-width="2.5"/>
<polyline points="1803.0,561.0 1803.0,579.0" stroke-width="2.5"/>
<polyline points="1792.0,746.7 1810.0,746.7" stroke-width="2.5"/>
<polyline points="1801.0,737.7 1801.0,755.7" stroke-width="2.5"/>
<circle cx="1778.0" cy="572.0" r="2.5" fill="#000" stroke="none"/>
<circle cx="1829.5" cy="570.0" r="2.5" fill="#000" stroke="none"/>
<circle cx="1867.0" cy="596.0" r="2.5" fill="#000" stroke="none"/>
<circle cx="1721.0" cy="635.7" r="2.5" fill="#000" stroke="none"/>
<circle cx="1890.0" cy="635.7" r="2.5" fill="#000" stroke="none"/>
<circle cx="1890.0" cy="681.5" r="2.5" fill="#000" stroke="none"/>
<circle cx="1780.0" cy="741.0" r="4" fill="#000" stroke="none"/>
<text x="1781.0" y="785.0" font-family="Liberation Serif" font-size="19" font-weight="bold" textLength="36.0" lengthAdjust="spacingAndGlyphs" fill="#000" stroke="none" stroke-width="0" xml:space="preserve">S4A</text>
<path d="M2238.6,616.7 A39,39 0 0 0 2230.4,688.8 L2223.5,707 L2236.5,713 L2244.4,679.0 A25,25 0 0 1 2242.2,630.3 Z" stroke-width="3.2" fill="#fff"/>
<path d="M2258.8,692.1 A39,39 0 0 0 2267.0,620.0 L2273.9,601.8 L2260.9,595.8 L2253.0,629.8 A25,25 0 0 1 2255.2,678.5 Z" stroke-width="3.2" fill="#fff"/>
<circle cx="2270.7" cy="571.7" r="6.5" fill="#000" stroke="none"/>
<polyline points="2270.7,571.7 2265.3,585.3" stroke-width="3.5"/>
<polygon points="2262.0,593.7 2261.5,577.4 2273.6,582.1" fill="#000" stroke="none"/>
<circle cx="2219.0" cy="577.0" r="6" fill="#000" stroke="none"/>
<polyline points="2219.0,577.0 2234.2,619.7" stroke-width="2.2"/>
<polygon points="2237.0,627.6 2227.6,616.1 2237.0,612.7" fill="#000" stroke="none"/>
<circle cx="2184.8" cy="594.0" r="6" fill="#000" stroke="none"/>
<polyline points="2184.8,594.0 2200.2,608.5" stroke-width="3.5"/>
<polygon points="2206.7,614.7 2191.3,609.1 2200.3,599.7" fill="#000" stroke="none"/>
<circle cx="2167.0" cy="631.8" r="6" fill="#000" stroke="none"/>
<polyline points="2167.0,631.8 2186.3,637.1" stroke-width="3.5"/>
<polygon points="2195.0,639.5 2178.8,641.8 2182.3,629.3" fill="#000" stroke="none"/>
<circle cx="2167.0" cy="675.4" r="6" fill="#000" stroke="none"/>
<polyline points="2167.0,675.4 2186.6,668.1" stroke-width="3.5"/>
<polygon points="2195.0,665.0 2183.2,676.3 2178.7,664.1" fill="#000" stroke="none"/>
<circle cx="2184.8" cy="707.7" r="6" fill="#000" stroke="none"/>
<polyline points="2184.8,707.7 2198.1,696.4" stroke-width="3.5"/>
<polygon points="2205.0,690.6 2197.8,705.3 2189.4,695.3" fill="#000" stroke="none"/>
<circle cx="2215.8" cy="735.8" r="6" fill="#000" stroke="none"/>
<polyline points="2215.8,735.8 2222.9,716.4" stroke-width="3.5"/>
<polygon points="2226.0,708.0 2226.9,724.3 2214.7,719.8" fill="#000" stroke="none"/>
<circle cx="2270.7" cy="737.4" r="6.5" fill="#000" stroke="none"/>
<polyline points="2270.7,737.4 2256.6,701.6" stroke-width="2.2"/>
<polygon points="2253.5,693.8 2263.3,705.0 2254.0,708.7" fill="#000" stroke="none"/>
<circle cx="2316.5" cy="595.3" r="6" fill="#000" stroke="none"/>
<polyline points="2316.5,595.3 2299.6,610.9" stroke-width="3.5"/>
<polygon points="2293.0,617.0 2299.6,602.0 2308.4,611.6" fill="#000" stroke="none"/>
<polyline points="2316.5,595.3 2459.0,593.0" stroke-width="3.6"/>
<circle cx="2337.0" cy="632.4" r="6" fill="#000" stroke="none"/>
<polyline points="2337.0,632.4 2313.7,638.3" stroke-width="3.5"/>
<polygon points="2305.0,640.5 2317.9,630.5 2321.1,643.1" fill="#000" stroke="none"/>
<polyline points="2337.0,632.4 2459.0,631.8" stroke-width="3.6"/>
<circle cx="2334.0" cy="676.0" r="6" fill="#000" stroke="none"/>
<polyline points="2334.0,676.0 2313.5,668.9" stroke-width="3.5"/>
<polygon points="2305.0,666.0 2321.3,664.7 2317.1,677.0" fill="#000" stroke="none"/>
<polyline points="2334.0,676.0 2432.8,674.4" stroke-width="3.6"/>
<circle cx="2318.0" cy="712.5" r="6" fill="#000" stroke="none"/>
<polyline points="2318.0,712.5 2301.1,699.3" stroke-width="3.5"/>
<polygon points="2294.0,693.8 2309.8,697.9 2301.8,708.1" fill="#000" stroke="none"/>
<polyline points="2318.0,712.5 2459.0,712.5" stroke-width="3.6"/>
<polyline points="2460.0,459.3 2436.0,459.5 2432.0,463.0 2432.8,674.4" stroke-width="3.6"/>
<polyline points="2238.0,568.8 2256.0,568.8" stroke-width="2.5"/>
<polyline points="2247.0,559.8 2247.0,577.8" stroke-width="2.5"/>
<polyline points="2237.0,743.9 2255.0,743.9" stroke-width="2.5"/>
<polyline points="2246.0,734.9 2246.0,752.9" stroke-width="2.5"/>
<text x="2227.7" y="780.0" font-family="Liberation Serif" font-size="19" font-weight="bold" textLength="36.3" lengthAdjust="spacingAndGlyphs" fill="#000" stroke="none" stroke-width="0" xml:space="preserve">S4B</text>
<path d="M2250,757 L2222,759 Q2213,760 2214,768 L2218,786" stroke-width="2" fill="none"/>
<polyline points="2270.7,737.4 2274.0,1240.0 2279.0,1656.0" stroke-width="3.6"/>
<text x="1648.0" y="843.0" font-family="Liberation Serif" font-size="21" font-weight="normal" textLength="23.0" lengthAdjust="spacingAndGlyphs" fill="#000" stroke="#000" stroke-width="0.5" xml:space="preserve">V1</text>
<text x="1566.0" y="872.0" font-family="Liberation Serif" font-size="21" font-weight="normal" textLength="180.0" lengthAdjust="spacingAndGlyphs" fill="#000" stroke="#000" stroke-width="0.5" xml:space="preserve">VFO AMPLIFIER</text>
<text x="1626.0" y="898.0" font-family="Liberation Serif" font-size="21" font-weight="normal" textLength="58.0" lengthAdjust="spacingAndGlyphs" fill="#000" stroke="#000" stroke-width="0.5" xml:space="preserve">6EW6</text>
<text x="1984.5" y="886.0" font-family="Liberation Serif" font-size="21" font-weight="normal" textLength="104.0" lengthAdjust="spacingAndGlyphs" fill="#000" stroke="#000" stroke-width="0.5" xml:space="preserve">C103-.002</text>
<circle cx="1827.5" cy="1001.0" r="60" stroke-width="2.8" fill="none"/>
<polyline points="1798.0,974.0 1853.0,974.0" stroke-width="4.5"/>
<polyline points="1795.0,990.0 1862.0,990.0" stroke-width="2.5" stroke-dasharray="17 9"/>
<polyline points="1795.0,1005.0 1862.0,1005.0" stroke-width="2.5" stroke-dasharray="17 9"/>
<polyline points="1795.0,1020.0 1862.0,1020.0" stroke-width="2.5" stroke-dasharray="17 9"/>
<polyline points="1801.0,1036.0 1854.0,1036.0" stroke-width="4"/>
<polyline points="1826.0,908.0 1826.0,974.0" stroke-width="2.8"/>
<circle cx="1826.0" cy="908.0" r="7.5" fill="#000" stroke="none"/>
<polyline points="1854.0,1036.0 1854.0,1047.0" stroke-width="2.8"/>
<polyline points="1801.0,1036.0 1801.0,1090.5" stroke-width="2.8"/>
<polyline points="1736.0,990.0 1793.0,990.0" stroke-width="2.8"/>
<polyline points="1736.0,969.0 1736.0,1009.0" stroke-width="2.8"/>
<polyline points="1725.0,979.5 1725.0,1000.6" stroke-width="2.8"/>
<polyline points="1715.0,985.0 1715.0,993.0" stroke-width="2.8"/>
<polyline points="1880.0,1003.0 2047.0,1003.0" stroke-width="2.8"/>
<circle cx="1966.0" cy="1003.0" r="7.5" fill="#000" stroke="none"/>
<polyline points="1699.0,1022.5 1774.0,1020.0" stroke-width="2.8"/>
<circle cx="1699.0" cy="1023.0" r="7.5" fill="#000" stroke="none"/>
<text transform="translate(1814.0 932.0)" font-family="Liberation Serif" font-size="19" font-weight="bold" text-anchor="middle" letter-spacing="0" fill="#000" stroke="none">5</text>
<text transform="translate(1758.6 980.0)" font-family="Liberation Serif" font-size="19" font-weight="bold" text-anchor="middle" letter-spacing="0" fill="#000" stroke="none">7</text>
<text transform="translate(1896.0 993.6)" font-family="Liberation Serif" font-size="19" font-weight="bold" text-anchor="middle" letter-spacing="0" fill="#000" stroke="none">6</text>
<text transform="translate(1764.0 1043.0)" font-family="Liberation Serif" font-size="19" font-weight="bold" text-anchor="middle" letter-spacing="0" fill="#000" stroke="none">1</text>
<text transform="translate(1791.0 1073.0)" font-family="Liberation Serif" font-size="19" font-weight="bold" text-anchor="middle" letter-spacing="0" fill="#000" stroke="none">2</text>
<path d="M1699,1023 L1699,1135" stroke-width="2.8" fill="none"/>
<polyline points="1699.0,1135.0 1688.0,1139.6 1710.0,1148.7 1688.0,1157.9 1710.0,1167.0 1688.0,1176.1 1710.0,1185.3 1688.0,1194.4 1699.0,1199.0" stroke-width="2.8"/>
<path d="M1699,1199 L1699,1246 Q1699,1250.6 1704,1250.6 L1962,1250 Q1967,1250 1967,1245 L1966,1176.6" stroke-width="2.8" fill="none"/>
<text transform="translate(1680.9 1209.0) rotate(-90)" font-family="Liberation Serif" font-size="21" font-weight="bold" textLength="81.5" lengthAdjust="spacingAndGlyphs" fill="#000" stroke="none" stroke-width="0" xml:space="preserve">R101-82</text>
<circle cx="1801.0" cy="1090.5" r="8" fill="#000" stroke="none"/>
<polyline points="1801.0,1090.5 1802.4,1132.8" stroke-width="2.8"/>
<polyline points="1802.4,1132.8 1791.4,1137.3 1813.4,1146.3 1791.4,1155.4 1813.4,1164.4 1791.4,1173.4 1813.4,1182.5 1791.4,1191.5 1802.4,1196.0" stroke-width="2.8"/>
<polyline points="1802.4,1196.0 1802.4,1286.0" stroke-width="2.8"/>
<circle cx="1802.4" cy="1250.6" r="8" fill="#000" stroke="none"/>
<circle cx="1882.8" cy="1249.5" r="8" fill="#000" stroke="none"/>
<polyline points="1780.8,1286.0 1824.6,1286.0" stroke-width="2.8"/>
<polyline points="1789.0,1296.6 1816.0,1296.6" stroke-width="2.8"/>
<polyline points="1798.0,1307.0 1806.0,1307.0" stroke-width="2.8"/>
<text transform="translate(1783.9 1207.0) rotate(-90)" font-family="Liberation Serif" font-size="21" font-weight="bold" textLength="82.0" lengthAdjust="spacingAndGlyphs" fill="#000" stroke="none" stroke-width="0" xml:space="preserve">R102-56</text>
<path d="M1801,1090.5 L1876,1090.5 Q1881,1090.5 1881,1095 L1881.7,1161.8" stroke-width="2.8" fill="none"/>
<polyline points="1867.0,1161.8 1901.0,1161.8" stroke-width="2.8"/>
<polyline points="1867.0,1176.6 1901.0,1176.6" stroke-width="2.8"/>
<polyline points="1882.0,1176.6 1882.8,1249.5" stroke-width="2.8"/>
<text transform="translate(1856.9 1220.0) rotate(-90)" font-family="Liberation Serif" font-size="21" font-weight="bold" textLength="106.0" lengthAdjust="spacingAndGlyphs" fill="#000" stroke="none" stroke-width="0" xml:space="preserve">C101-.002</text>
<polyline points="1966.0,1003.0 1966.0,1161.8" stroke-width="2.8"/>
<polyline points="1948.8,1161.8 1985.8,1161.8" stroke-width="2.8"/>
<polyline points="1948.8,1176.6 1985.8,1176.6" stroke-width="2.8"/>
<text transform="translate(1941.5 1220.0) rotate(-90)" font-family="Liberation Serif" font-size="21" font-weight="bold" textLength="92.5" lengthAdjust="spacingAndGlyphs" fill="#000" stroke="none" stroke-width="0" xml:space="preserve">C102-.01</text>
<path d="M2047,1003 Q2052,1003 2052,1008 L2052,1109" stroke-width="2.8" fill="none"/>
<polyline points="2052.0,1109.0 2042.0,1113.7 2062.0,1123.1 2042.0,1132.6 2062.0,1142.0 2042.0,1151.4 2062.0,1160.9 2042.0,1170.3 2052.0,1175.0" stroke-width="2.8"/>
<polyline points="2052.0,1175.0 2052.0,1280.8" stroke-width="2.8"/>
<polyline points="2044.0,1260.8 2052.0,1280.8 2060.0,1260.8" stroke-width="2.8"/>
<text transform="translate(2032.9 1222.6) rotate(-90)" font-family="Liberation Serif" font-size="21" font-weight="bold" textLength="140.0" lengthAdjust="spacingAndGlyphs" fill="#000" stroke="none" stroke-width="0" xml:space="preserve">R103-47K-1W</text>
<text x="2027.0" y="1303.0" font-family="Liberation Serif" font-size="21" font-weight="bold" textLength="43.0" lengthAdjust="spacingAndGlyphs" fill="#000" stroke="none" stroke-width="0" xml:space="preserve">+275</text>
<polyline points="1826.0,908.5 2038.7,909.0" stroke-width="2.8"/>
<polyline points="2038.7,895.0 2038.7,924.0" stroke-width="2.8"/>
<polyline points="2050.8,895.0 2050.8,924.0" stroke-width="2.8"/>
<path d="M2050.8,908 L2351,905.5 Q2356,905.5 2356,910 L2358.5,1245 L2361,1380 L2364,1768" stroke-width="2.8" fill="none"/>
<circle cx="2357.0" cy="1015.4" r="7.5" fill="#000" stroke="none"/>
<polyline points="2357.0,1015.4 2459.0,1013.8" stroke-width="2.8"/>
<circle cx="2276.5" cy="1246.4" r="17.5" stroke-width="2.8" fill="none"/>
<circle cx="2259.0" cy="1247.5" r="7.5" fill="#000" stroke="none"/>
<polyline points="2259.0,1213.6 2259.0,1279.0" stroke-width="2.8"/>
<polyline points="2259.0,1247.5 2206.8,1248.5" stroke-width="2.8"/>
<polyline points="2206.8,1228.0 2206.8,1270.0" stroke-width="2.8"/>
<polyline points="2196.0,1238.5 2196.0,1259.6" stroke-width="2.8"/>
<polyline points="2185.6,1245.0 2185.6,1253.0" stroke-width="2.8"/>
<circle cx="2358.5" cy="1245.4" r="17.5" stroke-width="2.8" fill="none"/>
<circle cx="2377.0" cy="1245.4" r="7.5" fill="#000" stroke="none"/>
<polyline points="2377.0,1214.7 2377.0,1279.0" stroke-width="2.8"/>
<polyline points="2377.0,1245.4 2424.5,1244.5" stroke-width="2.8"/>
<polyline points="2424.5,1222.6 2424.5,1265.0" stroke-width="2.8"/>
<polyline points="2435.0,1233.0 2435.0,1257.0" stroke-width="2.8"/>
<polyline points="2445.7,1240.0 2445.7,1249.0" stroke-width="2.8"/>
<polyline points="2464.0,1376.0 1694.6,1381.0 1695.4,1552.0" stroke-width="3.0"/>
<polyline points="2465.0,1466.5 1487.0,1471.0 1490.0,2185.0 1490.0,2454.0" stroke-width="3.0"/>
<circle cx="1696.6" cy="1552.0" r="7.5" fill="#000" stroke="none"/>
<path d="M1696.6,1552 L1631,1552 Q1626,1552 1626,1557 L1626.7,1655" stroke-width="3.0" fill="none"/>
<polyline points="1612.0,1655.0 1640.0,1655.0" stroke-width="3.0"/>
<polyline points="1612.0,1665.7 1640.0,1665.7" stroke-width="3.0"/>
<polyline points="1626.7,1665.7 1627.6,1776.6" stroke-width="3.0"/>
<text transform="translate(1603.9 1701.0) rotate(-90)" font-family="Liberation Serif" font-size="21" font-weight="bold" textLength="92.0" lengthAdjust="spacingAndGlyphs" fill="#000" stroke="none" stroke-width="0" xml:space="preserve">C606-100</text>
<polyline points="1696.6,1552.0 1696.6,1623.0" stroke-width="3.0"/>
<path d="M1696.6,1623 C1712,1625 1712,1648 1700,1650 C1712,1652 1712,1672 1700,1674 C1712,1676 1712,1699 1697,1701.4" stroke-width="3.0" fill="none"/>
<ellipse cx="1697.0" cy="1651.0" rx="6" ry="3.5" stroke-width="2.5" fill="none"/>
<ellipse cx="1697.0" cy="1674.0" rx="6" ry="3.5" stroke-width="2.5" fill="none"/>
<polyline points="1697.0,1701.4 1697.8,1776.6" stroke-width="3.0"/>
<polyline points="1719.0,1672.6 1719.0,1625.0" stroke-width="2.5"/>
<polygon points="1719.0,1611.0 1726.0,1635.0 1712.0,1635.0" fill="#000" stroke="none"/>
<text transform="translate(1682.9 1691.0) rotate(-90)" font-family="Liberation Serif" font-size="21" font-weight="bold" textLength="45.0" lengthAdjust="spacingAndGlyphs" fill="#000" stroke="none" stroke-width="0" xml:space="preserve">L604</text>
<polyline points="1627.6,1776.6 1861.0,1776.0" stroke-width="3.0"/>
<circle cx="1627.6" cy="1776.6" r="8" fill="#000" stroke="none"/>
<circle cx="1697.8" cy="1776.6" r="8" fill="#000" stroke="none"/>
<circle cx="1780.0" cy="1776.6" r="8" fill="#000" stroke="none"/>
<polyline points="1778.8,1639.8 1778.8,1550.6" stroke-width="3.0"/>
<polyline points="1786.8,1572.6 1778.8,1550.6 1770.8,1572.6" stroke-width="3.0"/>
<polyline points="1778.8,1639.8 1768.8,1643.5 1788.8,1650.8 1768.8,1658.1 1788.8,1665.4 1768.8,1672.7 1788.8,1680.0 1768.8,1687.3 1778.8,1691.0" stroke-width="3.0"/>
<polyline points="1778.8,1691.0 1780.0,1776.6" stroke-width="3.0"/>
<circle cx="1780.0" cy="1526.0" r="17.3" stroke-width="3.0" fill="none"/>
<text transform="translate(1780.0 1536.0)" font-family="Liberation Sans" font-size="27" font-weight="bold" text-anchor="middle" letter-spacing="0" fill="#000" stroke="none">R</text>
<text transform="translate(1761.9 1716.0) rotate(-90)" font-family="Liberation Serif" font-size="21" font-weight="bold" textLength="109.0" lengthAdjust="spacingAndGlyphs" fill="#000" stroke="none" stroke-width="0" xml:space="preserve">R607-470K</text>
<text x="1912.0" y="1583.5" font-family="Liberation Serif" font-size="21" font-weight="bold" textLength="27.0" lengthAdjust="spacingAndGlyphs" fill="#000" stroke="none" stroke-width="0" xml:space="preserve">V6</text>
<text x="1797.0" y="1609.8" font-family="Liberation Serif" font-size="21" font-weight="bold" textLength="290.0" lengthAdjust="spacingAndGlyphs" fill="#000" stroke="none" stroke-width="0" xml:space="preserve">RECEIVER RF. AMPLIFIER</text>
<text x="1892.0" y="1630.7" font-family="Liberation Serif" font-size="21" font-weight="bold" textLength="61.5" lengthAdjust="spacingAndGlyphs" fill="#000" stroke="none" stroke-width="0" xml:space="preserve">12BZ6</text>
<circle cx="1909.0" cy="1759.0" r="59.6" stroke-width="3.0" fill="none"/>
<polyline points="1879.5,1725.0 1941.0,1725.0" stroke-width="4.5"/>
<polyline points="1878.0,1745.0 1944.0,1745.0" stroke-width="2.5" stroke-dasharray="17 9"/>
<polyline points="1878.0,1761.0 1944.0,1761.0" stroke-width="2.5" stroke-dasharray="17 9"/>
<polyline points="1878.0,1775.4 1944.0,1775.4" stroke-width="2.5" stroke-dasharray="17 9"/>
<polyline points="1880.8,1789.0 1938.0,1789.0" stroke-width="4"/>
<polyline points="2279.0,1656.0 1908.0,1658.0 1908.0,1725.0" stroke-width="3.0"/>
<polyline points="1822.0,1745.0 1876.0,1745.0" stroke-width="3.0"/>
<polyline points="1822.0,1722.0 1822.0,1765.0" stroke-width="3.0"/>
<polyline points="1811.0,1730.0 1811.0,1759.0" stroke-width="3.0"/>
<polyline points="1800.0,1739.7 1800.0,1749.5" stroke-width="3.0"/>
<polyline points="1959.7,1760.0 2192.0,1759.5" stroke-width="3.0"/>
<circle cx="2031.6" cy="1760.0" r="8" fill="#000" stroke="none"/>
<polyline points="1938.0,1789.0 1938.0,1798.8" stroke-width="3.0"/>
<polyline points="1880.8,1789.0 1880.8,1848.6" stroke-width="3.0"/>
<text transform="translate(1899.0 1697.0)" font-family="Liberation Serif" font-size="19" font-weight="bold" text-anchor="middle" letter-spacing="0" fill="#000" stroke="none">5</text>
<text transform="translate(1843.8 1740.0)" font-family="Liberation Serif" font-size="19" font-weight="bold" text-anchor="middle" letter-spacing="0" fill="#000" stroke="none">7</text>
<text transform="translate(1976.0 1755.0)" font-family="Liberation Serif" font-size="19" font-weight="bold" text-anchor="middle" letter-spacing="0" fill="#000" stroke="none">6</text>
<text transform="translate(1846.6 1801.0)" font-family="Liberation Serif" font-size="19" font-weight="bold" text-anchor="middle" letter-spacing="0" fill="#000" stroke="none">1</text>
<text transform="translate(1889.0 1834.5)" font-family="Liberation Serif" font-size="19" font-weight="bold" text-anchor="middle" letter-spacing="0" fill="#000" stroke="none">2</text>
<polyline points="1627.6,1776.6 1627.6,1827.0" stroke-width="3.0"/>
<polyline points="1612.0,1827.0 1642.0,1827.0" stroke-width="4"/>
<polyline points="1612.0,1837.0 1642.0,1837.0" stroke-width="4"/>
<polyline points="1627.6,1837.0 1627.6,1894.0" stroke-width="3.0"/>
<path d="M1627.6,1894 C1642.6,1896.0 1642.6,1916.0 1629.6,1918.0 C1642.6,1920.0 1642.6,1940.0 1629.6,1942.0 C1642.6,1944.0 1642.6,1964.0 1627.6,1966.0 " stroke-width="3.0" fill="none"/>
<ellipse cx="1625.6" cy="1918.0" rx="6" ry="3.5" stroke-width="2.5" fill="none"/>
<ellipse cx="1625.6" cy="1942.0" rx="6" ry="3.5" stroke-width="2.5" fill="none"/>
<ellipse cx="1625.6" cy="1912.0" rx="6" ry="3.5" stroke-width="2.5" fill="none"/>
<polyline points="1627.6,1966.0 1627.6,2011.0" stroke-width="3.0"/>
<polyline points="1608.0,2011.0 1650.6,2011.0" stroke-width="3.0"/>
<polyline points="1616.5,2021.0 1642.0,2021.0" stroke-width="3.0"/>
<polyline points="1624.7,2031.6 1635.0,2031.6" stroke-width="3.0"/>
<polyline points="1650.6,1946.5 1650.6,1895.0" stroke-width="2.5"/>
<polygon points="1650.6,1880.7 1657.6,1904.7 1643.6,1904.7" fill="#000" stroke="none"/>
<text transform="translate(1604.9 1867.0) rotate(-90)" font-family="Liberation Serif" font-size="21" font-weight="bold" textLength="68.0" lengthAdjust="spacingAndGlyphs" fill="#000" stroke="none" stroke-width="0" xml:space="preserve">C605-5</text>
<text transform="translate(1610.9 1953.5) rotate(-90)" font-family="Liberation Serif" font-size="21" font-weight="bold" textLength="45.5" lengthAdjust="spacingAndGlyphs" fill="#000" stroke="none" stroke-width="0" xml:space="preserve">L603</text>
<text transform="translate(1576.9 1955.5) rotate(-90)" font-family="Liberation Serif" font-size="21" font-weight="bold" textLength="131.5" lengthAdjust="spacingAndGlyphs" fill="#000" stroke="none" stroke-width="0" xml:space="preserve">13 MC TRAP</text>
<polyline points="1697.8,1776.6 1697.8,1826.0" stroke-width="3.0"/>
<polyline points="1684.0,1826.0 1713.0,1826.0" stroke-width="4"/>
<polyline points="1684.0,1836.0 1713.0,1836.0" stroke-width="4"/>
<polyline points="1697.8,1836.0 1697.8,1894.0" stroke-width="3.0"/>
<path d="M1697.8,1894 C1712.8,1896.0 1712.8,1916.7 1699.8,1918.7 C1712.8,1920.7 1712.8,1941.3 1699.8,1943.3 C1712.8,1945.3 1712.8,1966.0 1697.8,1968.0 " stroke-width="3.0" fill="none"/>
<ellipse cx="1695.8" cy="1918.7" rx="6" ry="3.5" stroke-width="2.5" fill="none"/>
<ellipse cx="1695.8" cy="1943.3" rx="6" ry="3.5" stroke-width="2.5" fill="none"/>
<ellipse cx="1695.8" cy="1912.3" rx="6" ry="3.5" stroke-width="2.5" fill="none"/>
<polyline points="1697.8,1968.0 1697.8,2011.0" stroke-width="3.0"/>
<polyline points="1680.0,2011.0 1720.0,2011.0" stroke-width="3.0"/>
<polyline points="1687.6,2021.0 1713.0,2021.0" stroke-width="4"/>
<polyline points="1695.8,2031.0 1707.0,2031.0" stroke-width="4"/>
<polyline points="1721.0,1945.0 1721.0,1895.0" stroke-width="2.5"/>
<polygon points="1721.0,1880.7 1728.0,1904.7 1714.0,1904.7" fill="#000" stroke="none"/>
<text transform="translate(1673.9 1871.0) rotate(-90)" font-family="Liberation Serif" font-size="21" font-weight="bold" textLength="82.0" lengthAdjust="spacingAndGlyphs" fill="#000" stroke="none" stroke-width="0" xml:space="preserve">C604-10</text>
<text transform="translate(1680.9 1972.0) rotate(-90)" font-family="Liberation Serif" font-size="21" font-weight="bold" textLength="45.3" lengthAdjust="spacingAndGlyphs" fill="#000" stroke="none" stroke-width="0" xml:space="preserve">L602</text>
<text x="1665.8" y="2054.0" font-family="Liberation Serif" font-size="21" font-weight="bold" textLength="84.2" lengthAdjust="spacingAndGlyphs" fill="#000" stroke="none" stroke-width="0" xml:space="preserve">5175 KC</text>
<text x="1674.0" y="2078.8" font-family="Liberation Serif" font-size="21" font-weight="bold" textLength="58.8" lengthAdjust="spacingAndGlyphs" fill="#000" stroke="none" stroke-width="0" xml:space="preserve">TRAP</text>
<polyline points="1780.0,1776.6 1780.0,1904.0" stroke-width="3.0"/>
<polyline points="1780.0,1904.0 1769.0,1908.3 1791.0,1916.8 1769.0,1925.3 1791.0,1933.8 1769.0,1942.4 1791.0,1950.9 1769.0,1959.4 1780.0,1963.7" stroke-width="3.0"/>
<polyline points="1780.0,1963.7 1781.0,2139.7 2464.0,2134.0" stroke-width="3.0"/>
<text transform="translate(1760.9 1988.0) rotate(-90)" font-family="Liberation Serif" font-size="21" font-weight="bold" textLength="121.0" lengthAdjust="spacingAndGlyphs" fill="#000" stroke="none" stroke-width="0" xml:space="preserve">R601-1MEG</text>
<circle cx="1880.8" cy="1848.6" r="8" fill="#000" stroke="none"/>
<path d="M1880.8,1848.6 L1944,1848.6 Q1949.4,1848.6 1949.4,1854 L1949.4,1926" stroke-width="3.0" fill="none"/>
<polyline points="1934.0,1926.0 1963.8,1926.0" stroke-width="3.0"/>
<polyline points="1934.0,1937.8 1963.8,1937.8" stroke-width="3.0"/>
<polyline points="1949.4,1937.8 1949.4,2009.0" stroke-width="3.0"/>
<polyline points="1931.0,2009.0 1970.0,2009.0" stroke-width="3.0"/>
<polyline points="1939.0,2018.4 1962.0,2018.4" stroke-width="4"/>
<polyline points="1945.0,2027.0 1956.0,2027.0" stroke-width="4"/>
<polyline points="1880.8,1848.6 1880.8,1906.0" stroke-width="3.0"/>
<polyline points="1880.8,1906.0 1869.8,1909.8 1891.8,1917.5 1869.8,1925.1 1891.8,1932.8 1869.8,1940.5 1891.8,1948.1 1869.8,1955.8 1880.8,1959.6" stroke-width="3.0"/>
<polyline points="1880.8,1959.6 1880.8,2080.9" stroke-width="3.0"/>
<circle cx="1880.8" cy="2080.9" r="8" fill="#000" stroke="none"/>
<text transform="translate(1860.5 1970.0) rotate(-90)" font-family="Liberation Serif" font-size="21" font-weight="bold" textLength="80.3" lengthAdjust="spacingAndGlyphs" fill="#000" stroke="none" stroke-width="0" xml:space="preserve">R602-56</text>
<text transform="translate(1923.9 1978.0) rotate(-90)" font-family="Liberation Serif" font-size="21" font-weight="bold" textLength="92.4" lengthAdjust="spacingAndGlyphs" fill="#000" stroke="none" stroke-width="0" xml:space="preserve">C601-.01</text>
<polyline points="2031.6,1760.0 2031.6,1926.0" stroke-width="3.0"/>
<polyline points="2019.0,1926.0 2048.0,1926.0" stroke-width="3.0"/>
<polyline points="2019.0,1937.0 2048.0,1937.0" stroke-width="3.0"/>
<polyline points="2031.6,1937.0 2031.6,2008.0" stroke-width="3.0"/>
<polyline points="2013.0,2008.0 2053.4,2008.0" stroke-width="3.0"/>
<polyline points="2021.0,2017.4 2045.0,2017.4" stroke-width="4"/>
<polyline points="2027.0,2026.0 2038.0,2026.0" stroke-width="4"/>
<text transform="translate(2007.7 1974.0) rotate(-90)" font-family="Liberation Serif" font-size="21" font-weight="bold" textLength="92.5" lengthAdjust="spacingAndGlyphs" fill="#000" stroke="none" stroke-width="0" xml:space="preserve">C602-.01</text>
<path d="M2192,1759.5 Q2197.6,1759.5 2197.6,1765 L2197.6,1898.7" stroke-width="3.0" fill="none"/>
<polyline points="2197.6,1898.7 2186.6,1902.6 2208.6,1910.5 2186.6,1918.3 2208.6,1926.2 2186.6,1934.1 2208.6,1941.9 2186.6,1949.8 2197.6,1953.7" stroke-width="3.0"/>
<polyline points="2197.6,1953.7 2197.6,2107.5" stroke-width="3.0"/>
<circle cx="2197.6" cy="2107.5" r="8" fill="#000" stroke="none"/>
<text transform="translate(2177.9 1995.8) rotate(-90)" font-family="Liberation Serif" font-size="21" font-weight="bold" textLength="139.2" lengthAdjust="spacingAndGlyphs" fill="#000" stroke="none" stroke-width="0" xml:space="preserve">R603-47K-1W</text>
<polyline points="2464.0,2076.0 1602.0,2082.0 1603.0,2454.0" stroke-width="3.0"/>
<polyline points="2464.0,2105.7 1545.8,2113.8 1546.6,2454.0" stroke-width="3.0"/>
<circle cx="1490.0" cy="2185.0" r="9" fill="#000" stroke="none"/>
<polyline points="1490.0,2185.0 2464.0,2174.5" stroke-width="3.0"/>
<circle cx="2279.0" cy="1656.0" r="8" fill="#000" stroke="none"/>
<polyline points="2279.0,1656.0 2279.0,1691.8" stroke-width="3.0"/>
<polyline points="2263.6,1691.8 2294.7,1691.8" stroke-width="3.0"/>
<polyline points="2263.6,1703.5 2294.7,1703.5" stroke-width="3.0"/>
<polyline points="2279.0,1703.5 2280.0,1865.8" stroke-width="3.0"/>
<circle cx="2280.0" cy="1742.0" r="8" fill="#000" stroke="none"/>
<polyline points="2280.0,1742.0 2440.0,1741.0" stroke-width="3.0"/>
<text transform="translate(2254.7 1745.0) rotate(-90)" font-family="Liberation Serif" font-size="21" font-weight="bold" textLength="84.4" lengthAdjust="spacingAndGlyphs" fill="#000" stroke="none" stroke-width="0" xml:space="preserve">C701-30</text>
<path d="M2280,1865.8 C2295,1867 2295,1893 2283,1894 C2295,1895 2295,1921 2283,1922 C2295,1923 2295,1949 2281,1950" stroke-width="3.0" fill="none"/>
<ellipse cx="2280.0" cy="1894.0" rx="6" ry="3.5" stroke-width="2.5" fill="none"/>
<ellipse cx="2280.0" cy="1922.0" rx="6" ry="3.5" stroke-width="2.5" fill="none"/>
<ellipse cx="2280.0" cy="1880.0" rx="6" ry="3.5" stroke-width="2.5" fill="none"/>
<path d="M2281,1950 L2281,2196 Q2281,2201.5 2287,2201.5 L2464,2202" stroke-width="3.0" fill="none"/>
<text transform="translate(2261.9 1967.0) rotate(-90)" font-family="Liberation Serif" font-size="21" font-weight="bold" textLength="101.0" lengthAdjust="spacingAndGlyphs" fill="#000" stroke="none" stroke-width="0" xml:space="preserve">L701 RFC</text>
<polyline points="2350.0,1562.8 2376.7,1562.8" stroke-width="3.0"/>
<polyline points="2350.0,1574.5 2376.7,1574.5" stroke-width="3.0"/>
<rect x="2355" y="1564.5" width="16" height="8.3" fill="#fff" stroke="none"/>
<text transform="translate(2338.9 1605.7) rotate(-90)" font-family="Liberation Serif" font-size="21" font-weight="bold" textLength="84.7" lengthAdjust="spacingAndGlyphs" fill="#000" stroke="none" stroke-width="0" xml:space="preserve">C702-30</text>
<circle cx="2364.0" cy="1768.7" r="8.5" fill="#000" stroke="none"/>
<polyline points="2364.0,1768.7 2443.8,1768.0" stroke-width="3.0"/>
<polyline points="2364.0,1768.7 2364.0,1895.0" stroke-width="3.0"/>
<polyline points="2364.0,1895.0 2354.0,1898.3 2374.0,1904.8 2354.0,1911.4 2374.0,1917.9 2354.0,1924.4 2374.0,1931.0 2354.0,1937.5 2364.0,1940.8" stroke-width="3.0"/>
<polyline points="2364.0,1940.8 2364.0,2006.0" stroke-width="3.0"/>
<polyline points="2348.5,2006.0 2386.0,2006.0" stroke-width="3.0"/>
<polyline points="2357.0,2015.0 2380.0,2015.0" stroke-width="4"/>
<polyline points="2364.0,2023.0 2374.0,2023.0" stroke-width="4"/>
<text transform="translate(2342.9 1970.0) rotate(-90)" font-family="Liberation Serif" font-size="21" font-weight="bold" textLength="99.0" lengthAdjust="spacingAndGlyphs" fill="#000" stroke="none" stroke-width="0" xml:space="preserve">R701-27K</text>
<path d="M2465,1688 Q2428,1705 2428.3,1740 Q2429,1775 2461.4,1796.7" stroke-width="3.2" fill="none"/>
<polyline points="2280.0,1742.0 2439.7,1741.0" stroke-width="3.0"/>
<text transform="translate(2420.0 1734.0)" font-family="Liberation Serif" font-size="19" font-weight="bold" text-anchor="middle" letter-spacing="0" fill="#000" stroke="none">7</text>
<text transform="translate(2431.0 1789.0)" font-family="Liberation Serif" font-size="19" font-weight="bold" text-anchor="middle" letter-spacing="0" fill="#000" stroke="none">1</text>
<text x="2390.0" y="1602.6" font-family="Liberation Serif" font-size="21" font-weight="bold" textLength="69.7" lengthAdjust="spacingAndGlyphs" fill="#000" stroke="none" stroke-width="0" xml:space="preserve">RECEI</text>
<path d="M2457,1587 Q2465,1605 2465,1629.6" stroke-width="4" fill="none"/>
<text transform="translate(2456.0 1627.0)" font-family="Liberation Serif" font-size="19" font-weight="bold" text-anchor="middle" letter-spacing="0" fill="#000" stroke="none">1</text>
<polyline points="2462.3,1784.5 2462.3,1884.0" stroke-width="4"/>
<circle cx="2465.0" cy="1784.5" r="5" fill="#000" stroke="none"/>
<polyline points="2436.0,1883.8 2473.6,1883.8" stroke-width="3"/>
<polyline points="2445.7,1891.6 2467.5,1891.6" stroke-width="3"/>
<polyline points="2455.0,1901.0 2469.0,1901.0" stroke-width="3"/>
<polyline points="2458.0,1709.7 2467.5,1709.7" stroke-width="4"/>
<polyline points="2458.0,1723.6 2467.5,1723.6" stroke-width="3"/>
<polyline points="2458.0,1741.0 2467.5,1741.0" stroke-width="3"/>
<polyline points="2458.0,1753.0 2467.5,1753.0" stroke-width="3"/>
<polyline points="2458.0,1768.0 2467.5,1768.0" stroke-width="3"/>
<polyline points="2402.0,1645.0 2402.0,1757.0" stroke-width="1.2" stroke-dasharray="9 5 2 5"/>
<circle cx="1490.8" cy="2460.0" r="6" stroke-width="2.8" fill="#fff"/>
<polyline points="1490.8,2466.0 1490.8,2512.0 1502.8,2512.0" stroke-width="2.8"/>
<text transform="translate(1470.0 2465.6)" font-family="Liberation Serif" font-size="20" font-weight="bold" text-anchor="middle" letter-spacing="0" fill="#000" stroke="none">6</text>
<circle cx="1546.0" cy="2460.0" r="6" stroke-width="2.8" fill="#fff"/>
<polyline points="1546.0,2466.0 1546.0,2512.0 1532.0,2512.0" stroke-width="2.8"/>
<text transform="translate(1525.0 2465.6)" font-family="Liberation Serif" font-size="20" font-weight="bold" text-anchor="middle" letter-spacing="0" fill="#000" stroke="none">2</text>
<circle cx="1602.7" cy="2460.0" r="6" stroke-width="2.8" fill="#fff"/>
<polyline points="1602.7,2466.0 1602.7,2512.0 1616.7,2512.0" stroke-width="2.8"/>
<text transform="translate(1585.5 2463.0)" font-family="Liberation Serif" font-size="20" font-weight="bold" text-anchor="middle" letter-spacing="0" fill="#000" stroke="none">7</text>
<circle cx="1658.8" cy="2459.0" r="6" stroke-width="2.8" fill="#fff"/>
<polyline points="1658.8,2465.0 1658.8,2512.0 1644.8,2512.0" stroke-width="2.8"/>
<text transform="translate(1643.5 2465.6)" font-family="Liberation Serif" font-size="20" font-weight="bold" text-anchor="middle" letter-spacing="0" fill="#000" stroke="none">3</text>
<circle cx="1715.3" cy="2459.0" r="6" stroke-width="2.8" fill="#fff"/>
<polyline points="1715.3,2465.0 1715.3,2512.0 1728.3,2512.0" stroke-width="2.8"/>
<text transform="translate(1698.0 2465.6)" font-family="Liberation Serif" font-size="20" font-weight="bold" text-anchor="middle" letter-spacing="0" fill="#000" stroke="none">5</text>
<circle cx="1775.0" cy="2458.0" r="6" stroke-width="2.8" fill="#fff"/>
<polyline points="1775.0,2464.0 1775.0,2512.0 1760.0,2512.0" stroke-width="2.8"/>
<text transform="translate(1759.0 2465.6)" font-family="Liberation Serif" font-size="20" font-weight="bold" text-anchor="middle" letter-spacing="0" fill="#000" stroke="none">1</text>
<circle cx="1829.8" cy="2457.0" r="6" stroke-width="2.8" fill="#fff"/>
<polyline points="1829.8,2463.0 1829.8,2512.0 1841.8,2512.0" stroke-width="2.8"/>
<text transform="translate(1811.0 2465.6)" font-family="Liberation Serif" font-size="20" font-weight="bold" text-anchor="middle" letter-spacing="0" fill="#000" stroke="none">8</text>
<circle cx="1885.0" cy="2457.0" r="6" stroke-width="2.8" fill="#fff"/>
<polyline points="1885.0,2463.0 1885.0,2512.0 1871.0,2512.0" stroke-width="2.8"/>
<text transform="translate(1867.6 2465.6)" font-family="Liberation Serif" font-size="20" font-weight="bold" text-anchor="middle" letter-spacing="0" fill="#000" stroke="none">4</text>
<polyline points="1715.3,2453.0 1715.3,2355.0" stroke-width="2.8"/>
<polyline points="1724.3,2379.0 1715.3,2355.0 1706.3,2379.0" stroke-width="2.8"/>
<path d="M1829.8,2451 L1828.6,2350 Q1828.6,2344.7 1834,2344.7 L2032,2343.5" stroke-width="2.8" fill="none"/>
<path d="M1885,2451 L1886,2407 Q1886,2402.5 1891,2402.5 L2081,2402" stroke-width="2.8" fill="none"/>
<polyline points="1521.7,2562.8 1534.7,2500.0" stroke-width="2.8"/>
<circle cx="1518.7" cy="2571.8" r="9.5" stroke-width="2.8" fill="#fff"/>
<text x="1485.0" y="2578.0" font-family="Liberation Serif" font-size="20" font-weight="normal" textLength="21.0" lengthAdjust="spacingAndGlyphs" fill="#000" stroke="none" stroke-width="0" xml:space="preserve">10</text>
<polyline points="1636.0,2562.8 1648.0,2497.0" stroke-width="2.8"/>
<circle cx="1633.0" cy="2571.8" r="9.5" stroke-width="2.8" fill="#fff"/>
<text x="1599.6" y="2578.0" font-family="Liberation Serif" font-size="20" font-weight="normal" textLength="19.1" lengthAdjust="spacingAndGlyphs" fill="#000" stroke="none" stroke-width="0" xml:space="preserve">11</text>
<polyline points="1748.4,2560.8 1762.6,2496.0" stroke-width="2.8"/>
<circle cx="1745.4" cy="2569.8" r="9.5" stroke-width="2.8" fill="#fff"/>
<text x="1714.0" y="2579.0" font-family="Liberation Sans" font-size="22" font-weight="bold" textLength="12.4" lengthAdjust="spacingAndGlyphs" fill="#000" stroke="none" stroke-width="0" xml:space="preserve">9</text>
<polyline points="1860.0,2558.6 1874.4,2497.0" stroke-width="2.8"/>
<circle cx="1857.0" cy="2567.6" r="9.5" stroke-width="2.8" fill="#fff"/>
<text x="1823.0" y="2578.0" font-family="Liberation Serif" font-size="20" font-weight="normal" textLength="19.0" lengthAdjust="spacingAndGlyphs" fill="#000" stroke="none" stroke-width="0" xml:space="preserve">12</text>
<polyline points="1518.7,2581.0 1515.6,2622.0" stroke-width="2.8"/>
<circle cx="1515.6" cy="2622.0" r="8.5" fill="#000" stroke="none"/>
<polyline points="1633.0,2581.0 1633.0,2616.4" stroke-width="2.8"/>
<polyline points="1613.0,2616.4 1654.0,2616.4" stroke-width="2.8"/>
<polyline points="1620.6,2626.0 1647.0,2626.0" stroke-width="2.8"/>
<polyline points="1629.0,2638.5 1638.0,2638.5" stroke-width="2.8"/>
<polyline points="1745.4,2579.0 1745.4,2650.0" stroke-width="2.8"/>
<polyline points="1745.4,2640.0 1745.4,2679.4" stroke-width="2.8"/>
<polyline points="1737.4,2655.4 1745.4,2679.4 1753.4,2655.4" stroke-width="2.8"/>
<polyline points="1857.0,2577.0 1857.0,2613.0" stroke-width="2.8"/>
<polyline points="1835.5,2613.0 1880.0,2613.0" stroke-width="2.8"/>
<polyline points="1845.0,2623.0 1871.0,2623.0" stroke-width="2.8"/>
<polyline points="1855.0,2635.5 1864.0,2635.5" stroke-width="2.8"/>
<polyline points="1429.8,2545.8 1447.0,2545.8" stroke-width="2.5"/>
<polyline points="1460.0,2545.8 1477.5,2545.8" stroke-width="2.5"/>
<polyline points="1490.8,2545.8 1508.0,2545.8" stroke-width="2.5"/>
<polyline points="1548.0,2545.8 1567.0,2545.8" stroke-width="2.5"/>
<polyline points="1590.0,2545.8 1605.0,2545.8" stroke-width="2.5"/>
<polyline points="1657.0,2545.8 1676.0,2545.8" stroke-width="2.5"/>
<polyline points="1700.8,2545.8 1727.5,2545.8" stroke-width="2.5"/>
<polyline points="1769.5,2545.8 1792.4,2545.8" stroke-width="2.5"/>
<polyline points="1817.0,2545.8 1834.4,2545.8" stroke-width="2.5"/>
<text x="1698.0" y="2315.6" font-family="Liberation Sans" font-size="22" font-weight="normal" textLength="31.4" lengthAdjust="spacingAndGlyphs" fill="#000" stroke="none" stroke-width="0" xml:space="preserve">TO</text>
<text x="1686.6" y="2344.7" font-family="Liberation Sans" font-size="22" font-weight="bold" textLength="59.2" lengthAdjust="spacingAndGlyphs" fill="#000" stroke="none" stroke-width="0" xml:space="preserve">R406</text>
<text x="1697.0" y="2700.0" font-family="Liberation Sans" font-size="24" font-weight="normal" textLength="148.8" lengthAdjust="spacingAndGlyphs" fill="#000" stroke="none" stroke-width="0" xml:space="preserve">TO METER,</text>
<text x="1727.5" y="2727.0" font-family="Liberation Sans" font-size="24" font-weight="normal" textLength="38.1" lengthAdjust="spacingAndGlyphs" fill="#000" stroke="none" stroke-width="0" xml:space="preserve">M1</text>
<text x="1370.6" y="2505.0" font-family="Liberation Serif" font-size="19" font-weight="normal" textLength="24.1" lengthAdjust="spacingAndGlyphs" fill="#000" stroke="none" stroke-width="0" xml:space="preserve">K1</text>
<rect x="1352.7" y="2534.4" width="67.3" height="25.6" fill="none" stroke="#000" stroke-width="2.5"/>
<path d="M1363,2534 C1363,2519 1376,2519 1376,2534 M1389,2560 L1389,2534 C1389,2519 1411,2519 1411,2534 M1376,2534 L1377,2560 C1377,2576 1391,2576 1390,2560" stroke-width="2.8" fill="none"/>
<polyline points="1365.0,2534.0 1365.0,2823.0 1366.0,3004.9" stroke-width="2.8"/>
<polyline points="1410.7,2534.0 1414.4,2893.9 1415.6,2936.0 1416.0,2988.4" stroke-width="2.8"/>
<circle cx="2032.4" cy="2342.7" r="10.5" fill="#000" stroke="none"/>
<polyline points="2032.4,2343.5 2083.0,2343.0" stroke-width="2.8"/>
<polyline points="2083.0,2343.0 2087.6,2335.5 2096.9,2350.4 2106.1,2335.3 2115.4,2350.2 2124.6,2335.1 2133.9,2350.0 2138.5,2342.5" stroke-width="2.8"/>
<path d="M2138.5,2342.5 L2186,2342 Q2190.8,2342 2190.8,2347 L2190.8,2401.5" stroke-width="2.8" fill="none"/>
<circle cx="2190.8" cy="2401.5" r="10" fill="#000" stroke="none"/>
<polyline points="2190.8,2401.5 2190.8,2481.0" stroke-width="2.8"/>
<polyline points="2182.8,2457.0 2190.8,2481.0 2198.8,2457.0" stroke-width="2.8"/>
<polyline points="2033.0,2343.0 2033.6,2600.0 2035.5,2965.0 2470.0,2961.5" stroke-width="2.8"/>
<circle cx="1972.5" cy="2401.5" r="10.5" fill="#000" stroke="none"/>
<polyline points="1972.5,2402.0 2081.3,2401.8" stroke-width="2.8"/>
<polyline points="2081.3,2401.8 2086.1,2394.3 2095.9,2409.2 2105.6,2394.2 2115.4,2409.1 2125.1,2394.1 2134.9,2409.0 2139.7,2401.5" stroke-width="2.8"/>
<polyline points="2139.7,2401.5 2190.8,2401.5" stroke-width="2.8"/>
<polyline points="1972.5,2401.5 1972.5,2493.5" stroke-width="2.8"/>
<polyline points="1964.5,2469.5 1972.5,2493.5 1980.5,2469.5" stroke-width="2.8"/>
<circle cx="1975.0" cy="2518.0" r="17" stroke-width="2.8" fill="none"/>
<text transform="translate(1975.0 2527.5)" font-family="Liberation Sans" font-size="27" font-weight="bold" text-anchor="middle" letter-spacing="0" fill="#000" stroke="none">R</text>
<text x="2062.0" y="2324.4" font-family="Liberation Serif" font-size="22" font-weight="bold" textLength="111.0" lengthAdjust="spacingAndGlyphs" fill="#000" stroke="none" stroke-width="0" xml:space="preserve">R1603-27K</text>
<text x="2062.0" y="2382.4" font-family="Liberation Serif" font-size="22" font-weight="bold" textLength="111.0" lengthAdjust="spacingAndGlyphs" fill="#000" stroke="none" stroke-width="0" xml:space="preserve">R1604-27K</text>
<text x="2171.8" y="2503.8" font-family="Liberation Serif" font-size="21" font-weight="bold" textLength="43.2" lengthAdjust="spacingAndGlyphs" fill="#000" stroke="none" stroke-width="0" xml:space="preserve">-110</text>
<polyline points="2465.0,2347.0 2445.8,2368.0 2418.0,2368.0 2419.0,2480.0 2421.0,2590.8 2422.0,2704.0 2422.0,2846.0" stroke-width="2.8"/>
<text transform="translate(2447.0 2389.0)" font-family="Liberation Serif" font-size="19" font-weight="bold" text-anchor="middle" letter-spacing="0" fill="#000" stroke="none">4</text>
<circle cx="2420.0" cy="2479.8" r="9" fill="#000" stroke="none"/>
<polyline points="2420.0,2479.8 2465.0,2479.5" stroke-width="2.8"/>
<circle cx="2421.0" cy="2590.8" r="9" fill="#000" stroke="none"/>
<polyline points="2421.0,2590.8 2444.0,2590.8 2465.0,2570.6" stroke-width="2.8"/>
<text transform="translate(2451.5 2610.7)" font-family="Liberation Serif" font-size="19" font-weight="bold" text-anchor="middle" letter-spacing="0" fill="#000" stroke="none">5</text>
<circle cx="2422.0" cy="2704.0" r="9" fill="#000" stroke="none"/>
<polyline points="2422.0,2704.0 2444.0,2704.0 2465.0,2685.0" stroke-width="2.8"/>
<text x="2438.0" y="2729.0" font-family="Liberation Serif" font-size="19" font-weight="bold" textLength="19.0" lengthAdjust="spacingAndGlyphs" fill="#000" stroke="none" stroke-width="0" xml:space="preserve">12</text>
<polyline points="2461.0,2313.0 2465.0,2330.0" stroke-width="4"/>
<polyline points="2461.0,2654.6 2465.0,2664.0" stroke-width="4"/>
<circle cx="2423.0" cy="2789.0" r="9" fill="#000" stroke="none"/>
<polyline points="2423.0,2789.0 2468.0,2789.0" stroke-width="2.8"/>
<polyline points="2401.0,2846.0 2449.6,2846.0" stroke-width="2.8"/>
<polyline points="2409.6,2855.7 2443.0,2855.7" stroke-width="4"/>
<polyline points="2419.0,2866.0 2434.6,2866.0" stroke-width="4"/>
<rect x="2547" y="2303" width="3" height="417" fill="#000" stroke="none"/>
<circle cx="2035.5" cy="2834.4" r="9" fill="#000" stroke="none"/>
<polyline points="2035.5,2834.4 1903.0,2835.5" stroke-width="2.8"/>
<polyline points="1926.0,2825.0 1902.0,2835.5 1926.0,2846.0" stroke-width="2.8"/>
<circle cx="1866.5" cy="2837.0" r="16.4" stroke-width="2.8" fill="none"/>
<text transform="translate(1866.5 2846.0)" font-family="Liberation Sans" font-size="26" font-weight="bold" text-anchor="middle" letter-spacing="0" fill="#000" stroke="none">T</text>
<polyline points="1416.0,2988.4 1950.0,2984.0 2470.0,2981.7" stroke-width="2.6"/>
<polyline points="204.0,2928.5 204.0,3044.4 850.0,3042.0 1250.0,3039.8 1950.0,3034.9 2470.0,3029.4" stroke-width="2.4"/>
<polyline points="413.0,2904.9 413.0,3011.5 850.0,3009.5 1366.0,3005.0" stroke-width="2.2"/>
<polyline points="1250.0,2626.0 1515.6,2622.5" stroke-width="2.8"/>
<polyline points="1516.0,2622.0 1517.0,2681.4" stroke-width="2.8"/>
<polyline points="1503.6,2681.4 1533.6,2681.4" stroke-width="2.8"/>
<polyline points="1503.6,2692.5 1533.6,2692.5" stroke-width="2.8"/>
<polyline points="1517.0,2692.5 1517.0,2762.4" stroke-width="2.8"/>
<polyline points="1498.7,2762.4 1539.8,2762.4" stroke-width="2.8"/>
<polyline points="1505.0,2777.6 1533.0,2777.6" stroke-width="2.8"/>
<polyline points="1511.0,2792.0 1523.5,2792.0" stroke-width="2.8"/>
<text transform="translate(1488.3 2776.7) rotate(-90)" font-family="Liberation Serif" font-size="21" font-weight="bold" textLength="152.0" lengthAdjust="spacingAndGlyphs" fill="#000" stroke="none" stroke-width="0" xml:space="preserve">C202C-40MFD</text>
<circle cx="1367.0" cy="2823.0" r="8" fill="#000" stroke="none"/>
<circle cx="1368.0" cy="2936.0" r="8" fill="#000" stroke="none"/>
<circle cx="1414.4" cy="2893.9" r="8" fill="#000" stroke="none"/>
<circle cx="1415.6" cy="2936.0" r="8" fill="#000" stroke="none"/>
<path d="M1367,2823 L1482,2823 Q1487,2823 1487,2828 L1487,2888 Q1487,2893 1482,2893 L1414.4,2893.9" stroke-width="2.8" fill="none"/>
<polyline points="1472.0,2847.8 1502.8,2847.8" stroke-width="4"/>
<polygon points="1487,2849 1471,2873 1503,2873" fill="#000" stroke="none"/>
<text x="1505.7" y="2833.5" font-family="Liberation Serif" font-size="19" font-weight="bold" textLength="122.3" lengthAdjust="spacingAndGlyphs" fill="#000" stroke="none" stroke-width="0" xml:space="preserve">D1602-TS-2</text>
<polyline points="1415.6,2936.0 1531.4,2936.0" stroke-width="2.8"/>
<polygon points="1547.0,2936.0 1521.0,2944.0 1521.0,2928.0" fill="#000" stroke="none"/>
<text x="1550.9" y="2941.0" font-family="Liberation Serif" font-size="19" font-weight="normal" textLength="62.9" lengthAdjust="spacingAndGlyphs" fill="#000" stroke="none" stroke-width="0" xml:space="preserve">TO K2</text>
<text x="1245.0" y="2943.0" font-family="Liberation Serif" font-size="19" font-weight="normal" textLength="49.6" lengthAdjust="spacingAndGlyphs" fill="#000" stroke="none" stroke-width="0" xml:space="preserve">+12V</text>
<polyline points="1368.0,2936.0 1306.0,2937.0" stroke-width="2.8"/>
<polyline points="1328.0,2927.0 1305.0,2937.0 1328.0,2947.0" stroke-width="2.8"/>
<text x="337.0" y="2547.0" font-family="Liberation Serif" font-size="18" font-weight="normal" textLength="22.6" lengthAdjust="spacingAndGlyphs" fill="#444" stroke="none" stroke-width="0" xml:space="preserve">J5</text>
<text x="314.0" y="2570.0" font-family="Liberation Serif" font-size="18" font-weight="normal" textLength="76.0" lengthAdjust="spacingAndGlyphs" fill="#444" stroke="none" stroke-width="0" xml:space="preserve">POWER</text>
<text x="618.6" y="2554.0" font-family="Liberation Serif" font-size="18" font-weight="normal" textLength="41.1" lengthAdjust="spacingAndGlyphs" fill="#444" stroke="none" stroke-width="0" xml:space="preserve">+275</text>
<polyline points="690.0,2552.6 751.0,2552.6" stroke-width="2.4"/>
<polygon points="668.7,2552.6 696.7,2544.6 696.7,2560.6" fill="#000" stroke="none"/>
<circle cx="751.0" cy="2552.6" r="7.5" fill="#000" stroke="none"/>
<circle cx="752.0" cy="2630.0" r="8" fill="#000" stroke="none"/>
<path d="M751,2552.6 L752,2694 Q752,2699 757,2699 L835.5,2698.7" stroke-width="2.4" fill="none"/>
<polyline points="751.0,2552.6 834.0,2551.0" stroke-width="2.4"/>
<polyline points="834.0,2551.0 838.2,2543.5 847.0,2558.4 855.4,2543.3 864.2,2558.2 872.6,2543.1 881.4,2558.0 885.6,2550.5" stroke-width="2.4"/>
<polyline points="885.6,2550.5 974.8,2549.9" stroke-width="2.4"/>
<circle cx="974.8" cy="2549.9" r="7.5" fill="#000" stroke="none"/>
<polyline points="974.8,2549.9 1080.0,2548.6" stroke-width="2.4"/>
<polyline points="1062.0,2541.0 1083.0,2548.6 1062.0,2556.5" stroke-width="3.2"/>
<text x="789.9" y="2533.0" font-family="Liberation Sans" font-size="27" font-weight="normal" textLength="206.7" lengthAdjust="spacingAndGlyphs" fill="#000" stroke="#000" stroke-width="0.5" xml:space="preserve">R1605-750-10W</text>
<text x="1091.0" y="2550.7" font-family="Liberation Serif" font-size="19" font-weight="normal" textLength="43.0" lengthAdjust="spacingAndGlyphs" fill="#000" stroke="none" stroke-width="0" xml:space="preserve">+215</text>
<path d="M975,2549.9 L976,2622 Q976,2627.6 982,2627.6 L1250,2626" stroke-width="2.4" fill="none"/>
<polyline points="835.5,2698.7 840.0,2691.2 849.1,2706.1 858.1,2691.1 867.2,2706.1 876.2,2691.1 885.3,2706.0 889.8,2698.5" stroke-width="2.4"/>
<polyline points="889.8,2698.5 975.0,2697.8" stroke-width="2.4"/>
<circle cx="975.0" cy="2697.8" r="7.5" fill="#000" stroke="none"/>
<polyline points="975.0,2697.8 1086.0,2697.8" stroke-width="2.4"/>
<polyline points="1063.0,2690.5 1090.0,2697.8 1063.0,2705.0" stroke-width="3.4"/>
<text x="785.0" y="2682.0" font-family="Liberation Serif" font-size="19" font-weight="normal" textLength="154.0" lengthAdjust="spacingAndGlyphs" fill="#000" stroke="none" stroke-width="0" xml:space="preserve">R1606-6K-10W</text>
<text x="1098.6" y="2703.0" font-family="Liberation Serif" font-size="19" font-weight="normal" textLength="43.9" lengthAdjust="spacingAndGlyphs" fill="#000" stroke="none" stroke-width="0" xml:space="preserve">+150</text>
<text transform="translate(954.0 2719.0)" font-family="Liberation Serif" font-size="17" font-weight="normal" text-anchor="middle" letter-spacing="0" fill="#000" stroke="none">1</text>
<circle cx="976.9" cy="2762.4" r="43" stroke-width="2.4" fill="none"/>
<polyline points="975.0,2697.8 976.0,2745.0" stroke-width="2.4"/>
<polyline points="958.8,2745.0 995.8,2745.0" stroke-width="4"/>
<circle cx="976.9" cy="2776.8" r="9" stroke-width="2.4" fill="none"/>
<circle cx="1002.0" cy="2769.8" r="5" fill="#000" stroke="none"/>
<polyline points="977.0,2786.0 979.0,2841.7" stroke-width="2.4"/>
<text transform="translate(961.7 2826.0)" font-family="Liberation Serif" font-size="17" font-weight="normal" text-anchor="middle" letter-spacing="0" fill="#000" stroke="none">7</text>
<circle cx="979.0" cy="2841.7" r="7.5" fill="#000" stroke="none"/>
<polyline points="979.0,2841.7 1056.0,2841.0" stroke-width="2.4"/>
<polyline points="1056.0,2820.0 1056.0,2861.0" stroke-width="2.4"/>
<polyline points="1068.5,2828.0 1068.5,2855.0" stroke-width="2.4"/>
<polyline points="1081.0,2834.0 1081.0,2846.6" stroke-width="2.4"/>
<text x="1143.0" y="2743.0" font-family="Liberation Serif" font-size="19" font-weight="normal" textLength="35.0" lengthAdjust="spacingAndGlyphs" fill="#000" stroke="none" stroke-width="0" xml:space="preserve">V16</text>
<text x="1038.0" y="2772.0" font-family="Liberation Serif" font-size="19" font-weight="normal" textLength="253.0" lengthAdjust="spacingAndGlyphs" fill="#000" stroke="none" stroke-width="0" xml:space="preserve">VOLTAGE REGULATOR</text>
<text x="1138.0" y="2800.0" font-family="Liberation Serif" font-size="19" font-weight="normal" textLength="42.0" lengthAdjust="spacingAndGlyphs" fill="#000" stroke="none" stroke-width="0" xml:space="preserve">OA2</text>
<path d="M979,2842.5 L796,2844 Q791,2844 791,2849 L791,2884.5" stroke-width="2.4" fill="none"/>
<polyline points="770.6,2884.5 813.7,2884.5" stroke-width="4"/>
<polyline points="770.6,2899.0 813.7,2899.0" stroke-width="2.4"/>
<polyline points="791.0,2899.0 791.0,2941.0" stroke-width="2.4"/>
<polyline points="768.5,2868.0 782.5,2868.0" stroke-width="3"/>
<polyline points="775.5,2861.0 775.5,2875.0" stroke-width="3"/>
<text x="815.8" y="2861.0" font-family="Liberation Sans" font-size="21" font-weight="bold" textLength="67.8" lengthAdjust="spacingAndGlyphs" fill="#000" stroke="none" stroke-width="0" xml:space="preserve">C1601</text>
<text x="823.0" y="2883.6" font-family="Liberation Sans" font-size="18" font-weight="bold" textLength="62.6" lengthAdjust="spacingAndGlyphs" fill="#000" stroke="none" stroke-width="0" xml:space="preserve">80 MF</text>
<text x="823.0" y="2905.4" font-family="Liberation Sans" font-size="18" font-weight="bold" textLength="73.0" lengthAdjust="spacingAndGlyphs" fill="#000" stroke="none" stroke-width="0" xml:space="preserve">150 WV</text>
<polyline points="979.0,2841.7 979.0,2941.0" stroke-width="2.4"/>
<polygon points="979,2886 961.7,2914.5 996.6,2914.5" fill="#000" stroke="none"/>
<path d="M961.7,2879 L961.7,2884.9 L996.6,2884.9 L996.6,2891" stroke-width="4" fill="none"/>
<text x="1009.8" y="2907.0" font-family="Liberation Serif" font-size="20" font-weight="normal" textLength="165.2" lengthAdjust="spacingAndGlyphs" fill="#000" stroke="none" stroke-width="0" xml:space="preserve">D1601-1N2974A</text>
<polyline points="439.8,2944.7 614.5,2944.0 694.6,2943.5" stroke-width="2.4"/>
<polyline points="694.6,2943.5 699.1,2936.0 708.5,2950.9 717.6,2935.8 727.0,2950.7 736.1,2935.6 745.5,2950.5 750.0,2943.0" stroke-width="2.4"/>
<polyline points="750.0,2943.0 789.0,2942.5 842.5,2941.5" stroke-width="2.4"/>
<polyline points="842.5,2941.5 846.4,2934.0 854.4,2948.9 862.2,2933.9 870.1,2948.8 877.9,2933.8 885.9,2948.7 889.8,2941.2" stroke-width="2.4"/>
<polyline points="889.8,2941.2 979.0,2941.0" stroke-width="2.4"/>
<circle cx="614.5" cy="2944.0" r="7.5" fill="#000" stroke="none"/>
<circle cx="790.0" cy="2942.5" r="8" fill="#000" stroke="none"/>
<circle cx="979.0" cy="2941.0" r="8" fill="#000" stroke="none"/>
<polyline points="979.0,2941.0 1100.0,2940.0" stroke-width="2.4"/>
<polyline points="1086.0,2932.5 1107.6,2940.0 1086.0,2948.0" stroke-width="3.2"/>
<text x="1115.8" y="2945.0" font-family="Liberation Serif" font-size="19" font-weight="normal" textLength="45.2" lengthAdjust="spacingAndGlyphs" fill="#444" stroke="none" stroke-width="0" xml:space="preserve">-10V</text>
<text x="781.8" y="2983.0" font-family="Liberation Serif" font-size="19" font-weight="normal" textLength="156.2" lengthAdjust="spacingAndGlyphs" fill="#000" stroke="none" stroke-width="0" xml:space="preserve">R1601-800-10W</text>
<text x="678.0" y="2968.6" font-family="Liberation Sans" font-size="22" font-weight="bold" textLength="68.0" lengthAdjust="spacingAndGlyphs" fill="#000" stroke="none" stroke-width="0" xml:space="preserve">R1602</text>
<text x="647.0" y="2991.0" font-family="Liberation Sans" font-size="22" font-weight="bold" textLength="113.0" lengthAdjust="spacingAndGlyphs" fill="#000" stroke="none" stroke-width="0" xml:space="preserve">900-10W</text>
<text x="591.9" y="2872.0" font-family="Liberation Serif" font-size="18" font-weight="normal" textLength="43.1" lengthAdjust="spacingAndGlyphs" fill="#444" stroke="none" stroke-width="0" xml:space="preserve">-110</text>
<polyline points="614.5,2944.0 614.9,2899.6" stroke-width="2.4"/>
<polygon points="615.0,2884.0 621.8,2910.1 607.8,2909.9" fill="#000" stroke="none"/>
<text x="573.4" y="2754.0" font-family="Liberation Sans" font-size="22" font-weight="normal" textLength="156.2" lengthAdjust="spacingAndGlyphs" fill="#000" stroke="none" stroke-width="0" xml:space="preserve">S1, PART OF</text>
<text x="628.9" y="2773.0" font-family="Liberation Sans" font-size="20" font-weight="normal" textLength="106.1" lengthAdjust="spacingAndGlyphs" fill="#000" stroke="none" stroke-width="0" xml:space="preserve">A.F. GAIN</text>
<text x="506.4" y="2774.6" font-family="Liberation Sans" font-size="18" font-weight="bold" textLength="30.6" lengthAdjust="spacingAndGlyphs" fill="#000" stroke="none" stroke-width="0" xml:space="preserve">ON</text>
<text x="567.0" y="2825.5" font-family="Liberation Sans" font-size="18" font-weight="bold" textLength="41.0" lengthAdjust="spacingAndGlyphs" fill="#000" stroke="none" stroke-width="0" xml:space="preserve">OFF</text>
<circle cx="572.5" cy="2803.0" r="3.5" stroke-width="2.5" fill="none"/>
<circle cx="534.0" cy="2786.5" r="5" stroke-width="2.4" fill="none"/>
<circle cx="535.0" cy="2839.0" r="5.8" stroke-width="2.4" fill="none"/>
<polyline points="537.0,2833.5 550.7,2787.7" stroke-width="2.4"/>
<rect x="239.3" y="2775.9" width="228.1" height="189" rx="4" ry="4" fill="none" stroke="#000" stroke-width="1.9"/>
<rect x="264" y="2798" width="15.5" height="28.800000000000182" rx="3" ry="3" fill="#fff" stroke="#000" stroke-width="2.6"/>
<polygon points="264,2804 264,2820 255,2812" fill="#000" stroke="none"/>
<path d="M752,2631.5 L208,2631.5 Q203,2631.5 203,2636 L203.4,2811.6 L262,2811.6" stroke-width="2.1" fill="none"/>
<rect x="320.6" y="2798" width="16.399999999999977" height="28.800000000000182" rx="3" ry="3" fill="#fff" stroke="#000" stroke-width="2.6"/>
<polygon points="337,2804 337,2820 346,2812" fill="#000" stroke="none"/>
<polyline points="346.0,2812.0 354.3,2812.0 354.0,2927.5 344.0,2927.5" stroke-width="2.1"/>
<rect x="370" y="2804" width="28.69999999999999" height="14.5" rx="3" ry="3" fill="#fff" stroke="#000" stroke-width="2.6"/>
<polygon points="376,2804 391,2804 383.5,2796" fill="#000" stroke="none"/>
<polyline points="383.5,2800.0 383.5,2731.0" stroke-width="2.1"/>
<polyline points="390.5,2749.0 383.5,2731.0 376.5,2749.0" stroke-width="2.1"/>
<rect x="428" y="2803.5" width="26" height="15.0" rx="3" ry="3" fill="#fff" stroke="#000" stroke-width="2.6"/>
<polygon points="430,2803.5 446,2803.5 438,2795" fill="#000" stroke="none"/>
<path d="M437.7,2798 L437.7,2791 Q437.7,2787 442,2787 L529,2786.5" stroke-width="2.1" fill="none"/>
<text x="263" y="2843" font-family="Liberation Sans" font-size="24" font-weight="bold" font-style="italic" textLength="20.600000000000023" lengthAdjust="spacingAndGlyphs" fill="#000" stroke="none">10</text>
<text x="321" y="2843" font-family="Liberation Sans" font-size="24" font-weight="bold" font-style="italic" textLength="12" lengthAdjust="spacingAndGlyphs" fill="#000" stroke="none">7</text>
<text x="376" y="2843" font-family="Liberation Sans" font-size="24" font-weight="bold" font-style="italic" textLength="18.600000000000023" lengthAdjust="spacingAndGlyphs" fill="#000" stroke="none">4</text>
<text x="421" y="2843" font-family="Liberation Sans" font-size="24" font-weight="bold" font-style="italic" textLength="6" lengthAdjust="spacingAndGlyphs" fill="#000" stroke="none">1</text>
<rect x="256.9" y="2861.7" width="30.80000000000001" height="14.300000000000182" rx="3" ry="3" fill="#fff" stroke="#000" stroke-width="2.6"/>
<rect x="311.5" y="2861" width="28.5" height="15" rx="3" ry="3" fill="#fff" stroke="#000" stroke-width="2.6"/>
<polygon points="319,2861 335,2861 327,2853" fill="#000" stroke="none"/>
<polyline points="327.0,2856.0 296.0,2830.9 294.7,2740.0" stroke-width="2.1"/>
<polyline points="294.7,2760.0 294.7,2724.0" stroke-width="2.1"/>
<polyline points="301.7,2742.0 294.7,2724.0 287.7,2742.0" stroke-width="2.1"/>
<rect x="371" y="2861" width="28.5" height="15" rx="3" ry="3" fill="#fff" stroke="#000" stroke-width="2.6"/>
<polygon points="378,2876 394,2876 386,2884" fill="#000" stroke="none"/>
<polyline points="386.0,2880.0 413.0,2904.9" stroke-width="2.1"/>
<rect x="428.7" y="2861" width="25.30000000000001" height="14.5" rx="3" ry="3" fill="#fff" stroke="#000" stroke-width="2.6"/>
<polygon points="431,2861 447,2861 439,2853" fill="#000" stroke="none"/>
<path d="M439.8,2857 L439.8,2845 Q439.8,2841 444,2841 L529,2839" stroke-width="2.1" fill="none"/>
<text x="261.8" y="2896.6" font-family="Liberation Serif" font-size="18" font-weight="normal" textLength="18.9" lengthAdjust="spacingAndGlyphs" fill="#000" stroke="none" stroke-width="0" xml:space="preserve">11</text>
<text x="321.8" y="2896.6" font-family="Liberation Serif" font-size="18" font-weight="normal" textLength="9.1" lengthAdjust="spacingAndGlyphs" fill="#000" stroke="none" stroke-width="0" xml:space="preserve">8</text>
<text x="372" y="2898" font-family="Liberation Sans" font-size="24" font-weight="bold" font-style="italic" fill="#000" stroke="none">5</text>
<text x="433.6" y="2892.5" font-family="Liberation Serif" font-size="18" font-weight="bold" textLength="12.4" lengthAdjust="spacingAndGlyphs" fill="#000" stroke="none" stroke-width="0" xml:space="preserve">2</text>
<rect x="266.3" y="2912" width="12.399999999999977" height="27.800000000000182" rx="3" ry="3" fill="#fff" stroke="#000" stroke-width="2.6"/>
<polygon points="266.3,2918 266.3,2934 257,2926" fill="#000" stroke="none"/>
<polyline points="204.0,2928.3 261.0,2928.3" stroke-width="2.1"/>
<rect x="321.8" y="2912.5" width="14.0" height="27.300000000000182" rx="3" ry="3" fill="#fff" stroke="#000" stroke-width="2.6"/>
<polygon points="335.8,2919 335.8,2935 345,2927" fill="#000" stroke="none"/>
<rect x="372" y="2916.4" width="27.5" height="13.099999999999909" rx="3" ry="3" fill="#fff" stroke="#000" stroke-width="2.6"/>
<polygon points="377,2929.5 393,2929.5 385,2938" fill="#000" stroke="none"/>
<polyline points="385.0,2934.0 385.0,2968.6" stroke-width="2.1"/>
<polyline points="359.6,2968.6 407.0,2968.6" stroke-width="5"/>
<polyline points="370.0,2985.0 398.7,2985.0" stroke-width="2.1"/>
<polyline points="378.0,2997.0 392.6,2997.0" stroke-width="4"/>
<rect x="429.5" y="2915" width="24.5" height="14" rx="3" ry="3" fill="#fff" stroke="#000" stroke-width="2.6"/>
<polygon points="432,2929 448,2929 440,2937.5" fill="#000" stroke="none"/>
<path d="M439.8,2933 L439.8,2940 Q439.8,2944.7 445,2944.7 L470,2944.7" stroke-width="2.1" fill="none"/>
<text x="261.0" y="2958.0" font-family="Liberation Serif" font-size="18" font-weight="normal" textLength="19.7" lengthAdjust="spacingAndGlyphs" fill="#000" stroke="none" stroke-width="0" xml:space="preserve">12</text>
<text x="322.6" y="2958.0" font-family="Liberation Serif" font-size="18" font-weight="normal" textLength="8.3" lengthAdjust="spacingAndGlyphs" fill="#000" stroke="none" stroke-width="0" xml:space="preserve">9</text>
<text x="393.0" y="2948.0" font-family="Liberation Serif" font-size="18" font-weight="normal" textLength="11.0" lengthAdjust="spacingAndGlyphs" fill="#000" stroke="none" stroke-width="0" xml:space="preserve">6</text>
<text x="423.0" y="2944.7" font-family="Liberation Serif" font-size="18" font-weight="normal" textLength="9.8" lengthAdjust="spacingAndGlyphs" fill="#000" stroke="none" stroke-width="0" xml:space="preserve">3</text>
<text x="256.9" y="2713.7" font-family="Liberation Sans" font-size="26" font-weight="normal" textLength="67.8" lengthAdjust="spacingAndGlyphs" fill="#000" stroke="none" stroke-width="0" xml:space="preserve">+800</text>
<text x="357.6" y="2699.0" font-family="Liberation Sans" font-size="18" font-weight="normal" textLength="145.9" lengthAdjust="spacingAndGlyphs" fill="#000" stroke="none" stroke-width="0" xml:space="preserve">TO HEATERS</text>
<text x="361.7" y="2724.0" font-family="Liberation Serif" font-size="18" font-weight="normal" textLength="64.3" lengthAdjust="spacingAndGlyphs" fill="#000" stroke="none" stroke-width="0" xml:space="preserve">12.6 V</text>
<circle cx="276.6" cy="3107.3" r="26" stroke-width="3" fill="none"/>
<text transform="translate(276.6 3121.0)" font-family="Liberation Sans" font-size="38" font-weight="normal" text-anchor="middle" letter-spacing="0" fill="#000" stroke="none">C</text>
<text x="327.6" y="3122.5" font-family="Liberation Sans" font-size="48" font-weight="normal" textLength="203.8" lengthAdjust="spacingAndGlyphs" fill="#000" stroke="none" stroke-width="0" xml:space="preserve">11-30-65</text>
</svg></body></html>
